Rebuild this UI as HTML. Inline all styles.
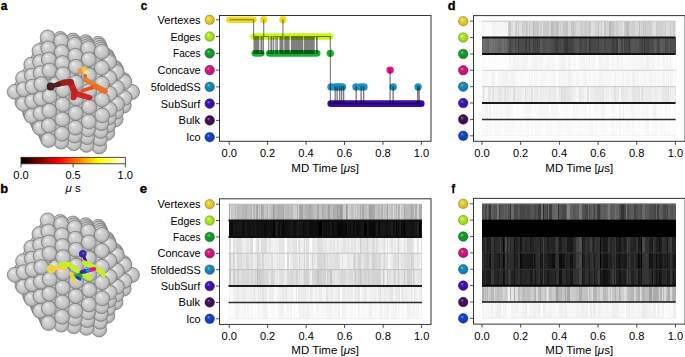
<!DOCTYPE html>
<html><head><meta charset="utf-8"><style>
html,body{margin:0;padding:0;background:#fff;overflow:hidden;}
svg{display:block;font-family:"Liberation Sans", sans-serif;}
</style></head><body>
<svg width="685" height="357" viewBox="0 0 685 357">
<defs><radialGradient id="s0" cx="0.5" cy="0.5" r="0.5" fx="0.35" fy="0.3"><stop offset="0" stop-color="#f7e68e"/><stop offset="0.35" stop-color="#f0d232"/><stop offset="0.85" stop-color="#d3b92c"/><stop offset="1" stop-color="#a89323"/></radialGradient><radialGradient id="s1" cx="0.5" cy="0.5" r="0.5" fx="0.35" fy="0.3"><stop offset="0" stop-color="#d5f688"/><stop offset="0.35" stop-color="#b2ee26"/><stop offset="0.85" stop-color="#9dd121"/><stop offset="1" stop-color="#7da71b"/></radialGradient><radialGradient id="s2" cx="0.5" cy="0.5" r="0.5" fx="0.35" fy="0.3"><stop offset="0" stop-color="#80cb8b"/><stop offset="0.35" stop-color="#18a02c"/><stop offset="0.85" stop-color="#158d27"/><stop offset="1" stop-color="#11701f"/></radialGradient><radialGradient id="s3" cx="0.5" cy="0.5" r="0.5" fx="0.35" fy="0.3"><stop offset="0" stop-color="#e880bb"/><stop offset="0.35" stop-color="#d61884"/><stop offset="0.85" stop-color="#bc1574"/><stop offset="1" stop-color="#96115c"/></radialGradient><radialGradient id="s4" cx="0.5" cy="0.5" r="0.5" fx="0.35" fy="0.3"><stop offset="0" stop-color="#81c0d8"/><stop offset="0.35" stop-color="#1a8cb8"/><stop offset="0.85" stop-color="#177ba2"/><stop offset="1" stop-color="#126281"/></radialGradient><radialGradient id="s5" cx="0.5" cy="0.5" r="0.5" fx="0.35" fy="0.3"><stop offset="0" stop-color="#967ed6"/><stop offset="0.35" stop-color="#4014b4"/><stop offset="0.85" stop-color="#38129e"/><stop offset="1" stop-color="#2d0e7e"/></radialGradient><radialGradient id="s6" cx="0.5" cy="0.5" r="0.5" fx="0.35" fy="0.3"><stop offset="0" stop-color="#987ca4"/><stop offset="0.35" stop-color="#44105a"/><stop offset="0.85" stop-color="#3c0e4f"/><stop offset="1" stop-color="#300b3f"/></radialGradient><radialGradient id="s7" cx="0.5" cy="0.5" r="0.5" fx="0.35" fy="0.3"><stop offset="0" stop-color="#7e98e3"/><stop offset="0.35" stop-color="#1444cc"/><stop offset="0.85" stop-color="#123cb4"/><stop offset="1" stop-color="#0e308f"/></radialGradient><linearGradient id="hot" x1="0" y1="0" x2="1" y2="0"><stop offset="0.000" stop-color="#000000"/><stop offset="0.050" stop-color="#230000"/><stop offset="0.100" stop-color="#460000"/><stop offset="0.150" stop-color="#690000"/><stop offset="0.200" stop-color="#8c0000"/><stop offset="0.250" stop-color="#af0000"/><stop offset="0.300" stop-color="#d20000"/><stop offset="0.350" stop-color="#f50000"/><stop offset="0.400" stop-color="#ff1700"/><stop offset="0.450" stop-color="#ff3900"/><stop offset="0.500" stop-color="#ff5a00"/><stop offset="0.550" stop-color="#ff7c00"/><stop offset="0.600" stop-color="#ff9d00"/><stop offset="0.650" stop-color="#ffbf00"/><stop offset="0.700" stop-color="#ffe000"/><stop offset="0.750" stop-color="#ffff04"/><stop offset="0.800" stop-color="#ffff36"/><stop offset="0.850" stop-color="#ffff68"/><stop offset="0.900" stop-color="#ffff9b"/><stop offset="0.950" stop-color="#ffffcd"/><stop offset="1.000" stop-color="#ffffff"/></linearGradient><radialGradient id="sph" cx="0.5" cy="0.5" r="0.5" fx="0.32" fy="0.27"><stop offset="0" stop-color="#eeeeee"/><stop offset="0.3" stop-color="#d5d5d5"/><stop offset="0.75" stop-color="#c3c3c3"/><stop offset="1" stop-color="#9e9e9e"/></radialGradient><g id="np" fill="url(#sph)" stroke="#7e7e7e" stroke-width="0.75"><circle cx="96.7" cy="102.2" r="7.5"/><circle cx="83.7" cy="93.8" r="7.5"/><circle cx="70.6" cy="85.3" r="7.5"/><circle cx="83.8" cy="109.6" r="7.5"/><circle cx="57.6" cy="76.9" r="7.5"/><circle cx="70.8" cy="101.2" r="7.5"/><circle cx="97.1" cy="87.6" r="7.5"/><circle cx="44.6" cy="68.4" r="7.5"/><circle cx="57.7" cy="92.7" r="7.5"/><circle cx="84.1" cy="79.2" r="7.5"/><circle cx="70.9" cy="117.0" r="7.5"/><circle cx="44.7" cy="84.3" r="7.5"/><circle cx="71.0" cy="70.7" r="7.5"/><circle cx="57.9" cy="108.6" r="7.5"/><circle cx="97.3" cy="113.3" r="7.5"/><circle cx="58.0" cy="62.3" r="7.5"/><circle cx="105.5" cy="99.7" r="7.5"/><circle cx="44.9" cy="100.1" r="7.5"/><circle cx="97.5" cy="73.0" r="7.5"/><circle cx="90.9" cy="99.6" r="7.5"/><circle cx="58.0" cy="124.4" r="7.5"/><circle cx="84.5" cy="64.6" r="7.5"/><circle cx="77.8" cy="91.2" r="7.5"/><circle cx="45.0" cy="116.0" r="7.5"/><circle cx="84.4" cy="120.7" r="7.5"/><circle cx="71.4" cy="56.1" r="7.5"/><circle cx="64.8" cy="82.7" r="7.5"/><circle cx="78.0" cy="107.0" r="7.5"/><circle cx="51.8" cy="74.3" r="7.5"/><circle cx="45.1" cy="131.9" r="7.5"/><circle cx="105.9" cy="85.1" r="7.5"/><circle cx="37.2" cy="74.3" r="7.5"/><circle cx="64.9" cy="98.6" r="7.5"/><circle cx="97.9" cy="58.4" r="7.5"/><circle cx="91.3" cy="85.0" r="7.5"/><circle cx="71.5" cy="128.1" r="7.5"/><circle cx="45.4" cy="60.7" r="7.5"/><circle cx="51.9" cy="90.1" r="7.5"/><circle cx="84.8" cy="50.0" r="7.5"/><circle cx="78.2" cy="76.6" r="7.5"/><circle cx="37.3" cy="90.1" r="7.5"/><circle cx="97.9" cy="124.3" r="7.5"/><circle cx="65.1" cy="114.5" r="7.5"/><circle cx="65.2" cy="68.1" r="7.5"/><circle cx="106.1" cy="110.7" r="7.5"/><circle cx="52.1" cy="106.0" r="7.5"/><circle cx="91.5" cy="110.7" r="7.5"/><circle cx="114.3" cy="97.1" r="7.5"/><circle cx="37.4" cy="106.0" r="7.5"/><circle cx="58.6" cy="135.5" r="7.5"/><circle cx="58.8" cy="54.5" r="7.5"/><circle cx="106.3" cy="70.5" r="7.5"/><circle cx="99.7" cy="97.1" r="7.5"/><circle cx="98.3" cy="43.8" r="7.5"/><circle cx="91.7" cy="70.4" r="7.5"/><circle cx="85.0" cy="97.1" r="7.5"/><circle cx="85.0" cy="131.7" r="7.5"/><circle cx="52.2" cy="121.9" r="7.5"/><circle cx="37.6" cy="121.8" r="7.5"/><circle cx="78.6" cy="62.0" r="7.5"/><circle cx="72.0" cy="88.6" r="7.5"/><circle cx="78.6" cy="118.1" r="7.5"/><circle cx="59.0" cy="80.2" r="7.5"/><circle cx="72.2" cy="48.3" r="7.5"/><circle cx="44.4" cy="80.1" r="7.5"/><circle cx="72.2" cy="104.5" r="7.5"/><circle cx="114.7" cy="82.5" r="7.5"/><circle cx="29.7" cy="80.1" r="7.5"/><circle cx="72.1" cy="139.1" r="7.5"/><circle cx="52.6" cy="66.5" r="7.5"/><circle cx="106.7" cy="55.9" r="7.5"/><circle cx="100.1" cy="82.5" r="7.5"/><circle cx="37.9" cy="66.5" r="7.5"/><circle cx="59.1" cy="96.0" r="7.5"/><circle cx="92.0" cy="55.8" r="7.5"/><circle cx="85.4" cy="82.5" r="7.5"/><circle cx="98.5" cy="135.4" r="7.5"/><circle cx="44.5" cy="96.0" r="7.5"/><circle cx="65.7" cy="125.5" r="7.5"/><circle cx="46.0" cy="133.9" r="7.5"/><circle cx="46.1" cy="52.9" r="7.5"/><circle cx="29.9" cy="96.0" r="7.5"/><circle cx="72.4" cy="74.0" r="7.5"/><circle cx="106.7" cy="121.8" r="7.5"/><circle cx="85.6" cy="42.2" r="7.5"/><circle cx="92.1" cy="121.7" r="7.5"/><circle cx="59.3" cy="111.9" r="7.5"/><circle cx="114.9" cy="108.2" r="7.5"/><circle cx="44.6" cy="111.8" r="7.5"/><circle cx="66.0" cy="60.4" r="7.5"/><circle cx="100.3" cy="108.1" r="7.5"/><circle cx="123.1" cy="94.6" r="7.5"/><circle cx="30.0" cy="111.8" r="7.5"/><circle cx="85.6" cy="108.1" r="7.5"/><circle cx="115.1" cy="67.9" r="7.5"/><circle cx="108.5" cy="94.5" r="7.5"/><circle cx="85.6" cy="142.8" r="7.5"/><circle cx="100.5" cy="67.9" r="7.5"/><circle cx="59.6" cy="46.7" r="7.5"/><circle cx="93.9" cy="94.5" r="7.5"/><circle cx="85.8" cy="67.8" r="7.5"/><circle cx="79.2" cy="94.5" r="7.5"/><circle cx="79.2" cy="129.2" r="7.5"/><circle cx="59.5" cy="137.5" r="7.5"/><circle cx="66.2" cy="86.0" r="7.5"/><circle cx="99.1" cy="45.8" r="7.5"/><circle cx="79.4" cy="54.2" r="7.5"/><circle cx="51.6" cy="86.0" r="7.5"/><circle cx="72.8" cy="115.5" r="7.5"/><circle cx="53.0" cy="123.9" r="7.5"/><circle cx="36.9" cy="86.0" r="7.5"/><circle cx="38.4" cy="123.9" r="7.5"/><circle cx="59.8" cy="72.4" r="7.5"/><circle cx="73.0" cy="40.6" r="7.5"/><circle cx="123.5" cy="80.0" r="7.5"/><circle cx="22.3" cy="85.9" r="7.5"/><circle cx="45.1" cy="72.4" r="7.5"/><circle cx="66.3" cy="101.9" r="7.5"/><circle cx="108.9" cy="79.9" r="7.5"/><circle cx="99.1" cy="146.4" r="7.5"/><circle cx="30.5" cy="72.3" r="7.5"/><circle cx="51.7" cy="101.9" r="7.5"/><circle cx="94.3" cy="79.9" r="7.5"/><circle cx="53.3" cy="58.8" r="7.5"/><circle cx="37.1" cy="101.8" r="7.5"/><circle cx="107.3" cy="132.8" r="7.5"/><circle cx="79.6" cy="79.9" r="7.5"/><circle cx="38.7" cy="58.7" r="7.5"/><circle cx="22.4" cy="101.8" r="7.5"/><circle cx="92.7" cy="132.8" r="7.5"/><circle cx="73.0" cy="141.2" r="7.5"/><circle cx="115.5" cy="119.2" r="7.5"/><circle cx="107.5" cy="57.9" r="7.5"/><circle cx="46.9" cy="45.1" r="7.5"/><circle cx="100.9" cy="119.2" r="7.5"/><circle cx="92.9" cy="57.9" r="7.5"/><circle cx="73.2" cy="66.2" r="7.5"/><circle cx="123.7" cy="105.6" r="7.5"/><circle cx="86.3" cy="119.2" r="7.5"/><circle cx="66.5" cy="127.5" r="7.5"/><circle cx="46.8" cy="135.9" r="7.5"/><circle cx="109.1" cy="105.6" r="7.5"/><circle cx="132.0" cy="92.0" r="7.5"/><circle cx="94.5" cy="105.6" r="7.5"/><circle cx="86.5" cy="44.2" r="7.5"/><circle cx="66.8" cy="52.6" r="7.5"/><circle cx="117.3" cy="92.0" r="7.5"/><circle cx="79.8" cy="105.5" r="7.5"/><circle cx="60.1" cy="113.9" r="7.5"/><circle cx="102.7" cy="92.0" r="7.5"/><circle cx="45.5" cy="113.9" r="7.5"/><circle cx="88.0" cy="91.9" r="7.5"/><circle cx="60.3" cy="39.0" r="7.5"/><circle cx="30.8" cy="113.9" r="7.5"/><circle cx="73.4" cy="91.9" r="7.5"/><circle cx="116.0" cy="69.9" r="7.5"/><circle cx="86.5" cy="144.8" r="7.5"/><circle cx="58.8" cy="91.9" r="7.5"/><circle cx="101.3" cy="69.9" r="7.5"/><circle cx="44.1" cy="91.8" r="7.5"/><circle cx="86.7" cy="69.9" r="7.5"/><circle cx="67.0" cy="78.3" r="7.5"/><circle cx="29.5" cy="91.8" r="7.5"/><circle cx="80.0" cy="131.2" r="7.5"/><circle cx="60.3" cy="139.6" r="7.5"/><circle cx="52.3" cy="78.2" r="7.5"/><circle cx="14.8" cy="91.8" r="7.5"/><circle cx="37.7" cy="78.2" r="7.5"/><circle cx="100.0" cy="47.9" r="7.5"/><circle cx="80.3" cy="56.3" r="7.5"/><circle cx="60.5" cy="64.6" r="7.5"/><circle cx="23.1" cy="78.2" r="7.5"/><circle cx="73.6" cy="117.6" r="7.5"/><circle cx="53.9" cy="125.9" r="7.5"/><circle cx="45.9" cy="64.6" r="7.5"/><circle cx="99.9" cy="138.7" r="7.5"/><circle cx="39.3" cy="125.9" r="7.5"/><circle cx="31.3" cy="64.6" r="7.5"/><circle cx="73.8" cy="42.6" r="7.5"/><circle cx="54.1" cy="51.0" r="7.5"/><circle cx="124.4" cy="82.0" r="7.5"/><circle cx="108.1" cy="125.1" r="7.5"/><circle cx="67.2" cy="103.9" r="7.5"/><circle cx="39.5" cy="51.0" r="7.5"/><circle cx="109.7" cy="82.0" r="7.5"/><circle cx="93.5" cy="125.0" r="7.5"/><circle cx="52.5" cy="103.9" r="7.5"/><circle cx="95.1" cy="81.9" r="7.5"/><circle cx="116.3" cy="111.5" r="7.5"/><circle cx="47.7" cy="37.4" r="7.5"/><circle cx="37.9" cy="103.9" r="7.5"/><circle cx="80.5" cy="81.9" r="7.5"/><circle cx="101.7" cy="111.4" r="7.5"/><circle cx="124.5" cy="97.9" r="7.5"/><circle cx="23.3" cy="103.8" r="7.5"/><circle cx="73.8" cy="143.2" r="7.5"/><circle cx="87.0" cy="111.4" r="7.5"/><circle cx="108.4" cy="59.9" r="7.5"/><circle cx="109.9" cy="97.8" r="7.5"/><circle cx="93.8" cy="59.9" r="7.5"/><circle cx="74.0" cy="68.3" r="7.5"/><circle cx="95.2" cy="97.8" r="7.5"/><circle cx="67.4" cy="129.6" r="7.5"/><circle cx="47.7" cy="138.0" r="7.5"/><circle cx="80.6" cy="97.8" r="7.5"/><circle cx="87.3" cy="46.3" r="7.5"/><circle cx="67.6" cy="54.6" r="7.5"/><circle cx="67.6" cy="89.3" r="7.5"/><circle cx="61.0" cy="116.0" r="7.5"/><circle cx="52.9" cy="89.3" r="7.5"/><circle cx="87.2" cy="137.1" r="7.5"/><circle cx="46.3" cy="115.9" r="7.5"/><circle cx="61.2" cy="41.0" r="7.5"/><circle cx="38.3" cy="89.3" r="7.5"/><circle cx="31.7" cy="115.9" r="7.5"/><circle cx="61.2" cy="75.7" r="7.5"/><circle cx="116.8" cy="72.0" r="7.5"/><circle cx="23.7" cy="89.2" r="7.5"/><circle cx="46.5" cy="75.7" r="7.5"/><circle cx="80.8" cy="123.4" r="7.5"/><circle cx="102.2" cy="72.0" r="7.5"/><circle cx="31.9" cy="75.6" r="7.5"/><circle cx="87.5" cy="71.9" r="7.5"/><circle cx="54.7" cy="62.1" r="7.5"/><circle cx="61.2" cy="141.6" r="7.5"/><circle cx="40.1" cy="62.0" r="7.5"/><circle cx="74.4" cy="109.8" r="7.5"/><circle cx="116.9" cy="87.8" r="7.5"/><circle cx="100.7" cy="130.9" r="7.5"/><circle cx="100.8" cy="49.9" r="7.5"/><circle cx="81.1" cy="58.3" r="7.5"/><circle cx="102.3" cy="87.8" r="7.5"/><circle cx="48.3" cy="48.4" r="7.5"/><circle cx="61.4" cy="101.3" r="7.5"/><circle cx="54.8" cy="128.0" r="7.5"/><circle cx="87.7" cy="87.8" r="7.5"/><circle cx="108.9" cy="117.3" r="7.5"/><circle cx="46.7" cy="101.3" r="7.5"/><circle cx="40.1" cy="127.9" r="7.5"/><circle cx="94.2" cy="117.3" r="7.5"/><circle cx="74.7" cy="44.7" r="7.5"/><circle cx="117.1" cy="103.7" r="7.5"/><circle cx="32.1" cy="101.3" r="7.5"/><circle cx="74.6" cy="79.3" r="7.5"/><circle cx="102.4" cy="103.7" r="7.5"/><circle cx="74.6" cy="135.5" r="7.5"/><circle cx="87.8" cy="103.6" r="7.5"/><circle cx="68.2" cy="65.7" r="7.5"/><circle cx="74.8" cy="95.2" r="7.5"/><circle cx="68.2" cy="121.8" r="7.5"/><circle cx="109.2" cy="62.0" r="7.5"/><circle cx="94.6" cy="61.9" r="7.5"/><circle cx="61.8" cy="52.1" r="7.5"/><circle cx="61.8" cy="86.7" r="7.5"/><circle cx="55.1" cy="113.4" r="7.5"/><circle cx="48.5" cy="140.0" r="7.5"/><circle cx="47.1" cy="86.7" r="7.5"/><circle cx="40.5" cy="113.3" r="7.5"/><circle cx="88.0" cy="129.3" r="7.5"/><circle cx="88.2" cy="48.3" r="7.5"/><circle cx="109.4" cy="77.8" r="7.5"/><circle cx="32.5" cy="86.7" r="7.5"/><circle cx="55.3" cy="73.1" r="7.5"/><circle cx="94.7" cy="77.8" r="7.5"/><circle cx="40.7" cy="73.1" r="7.5"/><circle cx="81.6" cy="115.7" r="7.5"/><circle cx="81.7" cy="69.3" r="7.5"/><circle cx="48.9" cy="59.5" r="7.5"/><circle cx="109.5" cy="93.7" r="7.5"/><circle cx="68.6" cy="107.2" r="7.5"/><circle cx="62.0" cy="133.8" r="7.5"/><circle cx="94.9" cy="93.7" r="7.5"/><circle cx="101.4" cy="123.1" r="7.5"/><circle cx="75.3" cy="55.7" r="7.5"/><circle cx="55.5" cy="98.8" r="7.5"/><circle cx="48.9" cy="125.4" r="7.5"/><circle cx="81.9" cy="85.2" r="7.5"/><circle cx="109.6" cy="109.5" r="7.5"/><circle cx="40.9" cy="98.7" r="7.5"/><circle cx="101.7" cy="51.9" r="7.5"/><circle cx="95.0" cy="109.5" r="7.5"/><circle cx="68.8" cy="76.8" r="7.5"/><circle cx="82.0" cy="101.1" r="7.5"/><circle cx="75.4" cy="127.7" r="7.5"/><circle cx="62.4" cy="63.1" r="7.5"/><circle cx="101.8" cy="67.8" r="7.5"/><circle cx="69.0" cy="92.6" r="7.5"/><circle cx="62.3" cy="119.2" r="7.5"/><circle cx="88.8" cy="59.4" r="7.5"/><circle cx="55.9" cy="84.2" r="7.5"/><circle cx="49.3" cy="110.8" r="7.5"/><circle cx="101.9" cy="83.7" r="7.5"/><circle cx="41.3" cy="84.1" r="7.5"/><circle cx="88.8" cy="121.5" r="7.5"/><circle cx="49.5" cy="70.5" r="7.5"/><circle cx="88.9" cy="75.2" r="7.5"/><circle cx="75.8" cy="113.1" r="7.5"/><circle cx="102.1" cy="99.5" r="7.5"/><circle cx="75.9" cy="66.8" r="7.5"/><circle cx="62.7" cy="104.6" r="7.5"/><circle cx="89.1" cy="91.1" r="7.5"/><circle cx="102.2" cy="115.4" r="7.5"/><circle cx="49.7" cy="96.2" r="7.5"/><circle cx="76.0" cy="82.6" r="7.5"/><circle cx="89.2" cy="106.9" r="7.5"/><circle cx="63.0" cy="74.2" r="7.5"/><circle cx="76.2" cy="98.5" r="7.5"/><circle cx="63.1" cy="90.0" r="7.5"/></g></defs>
<rect width="685" height="357" fill="#fff"/><g transform="translate(0,21.20) scale(1,16.370)" shape-rendering="crispEdges"><path fill="#b7b7b7" d="M533.0 0h1v1h-1zM609.0 0h2v1h-2z"/><path fill="#bdbdbd" d="M551.0 0h3v1h-3zM556.0 0h2v1h-2zM626.0 0h3v1h-3z"/><path fill="#c0c0c0" d="M526.0 0h1v1h-1zM573.0 0h1v1h-1zM589.0 0h1v1h-1zM613.0 0h1v1h-1zM639.0 0h1v1h-1z"/><path fill="#c3c3c3" d="M565.0 0h3v1h-3zM598.0 0h1v1h-1z"/><path fill="#c6c6c6" d="M509.0 0h1v1h-1zM529.0 0h1v1h-1zM537.0 0h1v1h-1zM558.0 0h1v1h-1zM563.0 0h1v1h-1zM571.0 0h2v1h-2zM604.0 0h2v1h-2zM611.0 0h2v1h-2zM643.0 0h1v1h-1zM645.0 0h1v1h-1z"/><path fill="#c9c9c9" d="M510.0 0h1v1h-1zM516.0 0h1v1h-1zM518.0 0h1v1h-1zM534.0 0h3v1h-3zM538.0 0h1v1h-1zM543.0 0h3v1h-3zM546.0 0h3v1h-3zM554.0 0h2v1h-2zM582.0 0h1v1h-1zM624.0 0h2v1h-2z"/><path fill="#cccccc" d="M564.0 0h1v1h-1zM574.0 0h1v1h-1zM584.0 0h3v1h-3zM590.0 0h1v1h-1zM601.0 0h1v1h-1zM616.0 0h2v1h-2zM629.0 0h1v1h-1zM656.0 0h1v1h-1zM670.0 0h1v1h-1zM673.0 0h2v1h-2z"/><path fill="#cfcfcf" d="M508.0 0h1v1h-1zM522.0 0h3v1h-3zM527.0 0h1v1h-1zM540.0 0h2v1h-2zM550.0 0h1v1h-1zM575.0 0h1v1h-1zM580.0 0h2v1h-2zM587.0 0h2v1h-2zM631.0 0h1v1h-1zM632.0 0h3v1h-3zM644.0 0h1v1h-1zM646.0 0h3v1h-3zM649.0 0h3v1h-3zM657.0 0h3v1h-3zM660.0 0h2v1h-2zM665.0 0h1v1h-1z"/><path fill="#d2d2d2" d="M515.0 0h1v1h-1zM560.0 0h1v1h-1zM595.0 0h3v1h-3zM614.0 0h2v1h-2zM618.0 0h1v1h-1zM641.0 0h2v1h-2zM662.0 0h3v1h-3z"/><path fill="#d5d5d5" d="M525.0 0h1v1h-1zM531.0 0h2v1h-2zM549.0 0h1v1h-1zM559.0 0h1v1h-1zM561.0 0h2v1h-2zM583.0 0h1v1h-1zM606.0 0h3v1h-3zM630.0 0h1v1h-1zM640.0 0h1v1h-1z"/><path fill="#d8d8d8" d="M530.0 0h1v1h-1zM539.0 0h1v1h-1zM568.0 0h3v1h-3zM576.0 0h3v1h-3zM579.0 0h1v1h-1zM619.0 0h2v1h-2zM621.0 0h2v1h-2zM635.0 0h1v1h-1zM636.0 0h3v1h-3zM669.0 0h1v1h-1zM671.0 0h2v1h-2z"/><path fill="#dbdbdb" d="M511.0 0h2v1h-2zM528.0 0h1v1h-1zM593.0 0h2v1h-2zM599.0 0h2v1h-2zM666.0 0h2v1h-2zM668.0 0h1v1h-1z"/><path fill="#dedede" d="M517.0 0h1v1h-1zM519.0 0h3v1h-3zM542.0 0h1v1h-1zM591.0 0h2v1h-2zM652.0 0h2v1h-2z"/><path fill="#e1e1e1" d="M602.0 0h2v1h-2zM654.0 0h2v1h-2z"/><path fill="#e4e4e4" d="M513.0 0h2v1h-2zM675.0 0h0.6v1h-0.6z"/><path fill="#e7e7e7" d="M623.0 0h1v1h-1z"/><path fill="#f0f0f0" d="M494.0 0h1v1h-1z"/><path fill="#f3f3f3" d="M492.0 0h2v1h-2zM501.0 0h1v1h-1zM505.0 0h1v1h-1zM506.0 0h2v1h-2z"/><path fill="#f6f6f6" d="M482.0 0h1v1h-1zM483.0 0h1v1h-1zM495.0 0h1v1h-1zM496.0 0h2v1h-2zM498.0 0h3v1h-3zM502.0 0h2v1h-2zM504.0 0h1v1h-1z"/><path fill="#f9f9f9" d="M484.0 0h1v1h-1zM488.0 0h1v1h-1zM489.0 0h2v1h-2zM491.0 0h1v1h-1z"/><path fill="#fcfcfc" d="M485.0 0h3v1h-3z"/></g><g transform="translate(0,37.57) scale(1,16.370)" shape-rendering="crispEdges"><path fill="#363636" d="M565.0 0h3v1h-3zM644.0 0h1v1h-1z"/><path fill="#393939" d="M529.0 0h1v1h-1zM589.0 0h1v1h-1zM629.0 0h1v1h-1z"/><path fill="#3c3c3c" d="M518.0 0h1v1h-1zM526.0 0h1v1h-1zM537.0 0h1v1h-1zM556.0 0h2v1h-2zM613.0 0h1v1h-1zM616.0 0h2v1h-2z"/><path fill="#3f3f3f" d="M525.0 0h1v1h-1zM564.0 0h1v1h-1zM590.0 0h1v1h-1zM598.0 0h1v1h-1z"/><path fill="#424242" d="M533.0 0h1v1h-1zM539.0 0h1v1h-1zM554.0 0h2v1h-2zM568.0 0h3v1h-3zM571.0 0h2v1h-2zM641.0 0h2v1h-2zM646.0 0h3v1h-3z"/><path fill="#454545" d="M510.0 0h1v1h-1zM534.0 0h3v1h-3zM558.0 0h1v1h-1zM560.0 0h1v1h-1zM563.0 0h1v1h-1zM573.0 0h1v1h-1zM580.0 0h2v1h-2zM611.0 0h2v1h-2zM621.0 0h2v1h-2zM624.0 0h2v1h-2zM626.0 0h3v1h-3zM665.0 0h1v1h-1z"/><path fill="#484848" d="M509.0 0h1v1h-1zM515.0 0h1v1h-1zM538.0 0h1v1h-1zM579.0 0h1v1h-1zM584.0 0h3v1h-3zM591.0 0h2v1h-2zM593.0 0h2v1h-2zM595.0 0h3v1h-3zM604.0 0h2v1h-2zM614.0 0h2v1h-2zM640.0 0h1v1h-1zM645.0 0h1v1h-1zM657.0 0h3v1h-3zM670.0 0h1v1h-1z"/><path fill="#4b4b4b" d="M519.0 0h3v1h-3zM522.0 0h3v1h-3zM528.0 0h1v1h-1zM551.0 0h3v1h-3zM559.0 0h1v1h-1zM601.0 0h1v1h-1zM639.0 0h1v1h-1zM643.0 0h1v1h-1zM649.0 0h3v1h-3zM652.0 0h2v1h-2z"/><path fill="#4e4e4e" d="M511.0 0h2v1h-2zM516.0 0h1v1h-1zM527.0 0h1v1h-1zM530.0 0h1v1h-1zM543.0 0h3v1h-3zM549.0 0h1v1h-1zM561.0 0h2v1h-2zM574.0 0h1v1h-1zM583.0 0h1v1h-1zM599.0 0h2v1h-2zM606.0 0h3v1h-3zM609.0 0h2v1h-2zM630.0 0h1v1h-1zM666.0 0h2v1h-2zM668.0 0h1v1h-1zM673.0 0h2v1h-2z"/><path fill="#515151" d="M531.0 0h2v1h-2zM542.0 0h1v1h-1zM575.0 0h1v1h-1zM582.0 0h1v1h-1zM587.0 0h2v1h-2zM602.0 0h2v1h-2zM631.0 0h1v1h-1zM635.0 0h1v1h-1zM671.0 0h2v1h-2zM675.0 0h0.6v1h-0.6z"/><path fill="#545454" d="M517.0 0h1v1h-1zM546.0 0h3v1h-3zM550.0 0h1v1h-1zM576.0 0h3v1h-3zM632.0 0h3v1h-3zM636.0 0h3v1h-3zM656.0 0h1v1h-1z"/><path fill="#575757" d="M508.0 0h1v1h-1zM513.0 0h2v1h-2zM619.0 0h2v1h-2zM623.0 0h1v1h-1z"/><path fill="#5a5a5a" d="M540.0 0h2v1h-2zM654.0 0h2v1h-2zM662.0 0h3v1h-3zM669.0 0h1v1h-1z"/><path fill="#5d5d5d" d="M618.0 0h1v1h-1zM660.0 0h2v1h-2z"/><path fill="#636363" d="M482.0 0h1v1h-1zM488.0 0h1v1h-1zM498.0 0h3v1h-3zM506.0 0h2v1h-2z"/><path fill="#666666" d="M501.0 0h1v1h-1zM504.0 0h1v1h-1z"/><path fill="#696969" d="M485.0 0h3v1h-3zM495.0 0h1v1h-1z"/><path fill="#6c6c6c" d="M496.0 0h2v1h-2zM505.0 0h1v1h-1z"/><path fill="#6f6f6f" d="M483.0 0h1v1h-1zM492.0 0h2v1h-2zM502.0 0h2v1h-2z"/><path fill="#727272" d="M484.0 0h1v1h-1zM489.0 0h2v1h-2zM494.0 0h1v1h-1z"/><path fill="#787878" d="M491.0 0h1v1h-1z"/></g><g transform="translate(0,53.94) scale(1,16.370)" shape-rendering="crispEdges"><path fill="#f0f0f0" d="M564.0 0h1v1h-1zM589.0 0h1v1h-1zM646.0 0h3v1h-3z"/><path fill="#f3f3f3" d="M513.0 0h2v1h-2zM515.0 0h1v1h-1zM517.0 0h1v1h-1zM522.0 0h3v1h-3zM525.0 0h1v1h-1zM527.0 0h1v1h-1zM534.0 0h3v1h-3zM537.0 0h1v1h-1zM540.0 0h2v1h-2zM561.0 0h2v1h-2zM563.0 0h1v1h-1zM568.0 0h3v1h-3zM593.0 0h2v1h-2zM599.0 0h2v1h-2zM601.0 0h1v1h-1zM606.0 0h3v1h-3zM618.0 0h1v1h-1zM641.0 0h2v1h-2zM652.0 0h2v1h-2zM670.0 0h1v1h-1z"/><path fill="#f6f6f6" d="M509.0 0h1v1h-1zM510.0 0h1v1h-1zM516.0 0h1v1h-1zM518.0 0h1v1h-1zM519.0 0h3v1h-3zM526.0 0h1v1h-1zM531.0 0h2v1h-2zM533.0 0h1v1h-1zM539.0 0h1v1h-1zM546.0 0h3v1h-3zM549.0 0h1v1h-1zM551.0 0h3v1h-3zM559.0 0h1v1h-1zM560.0 0h1v1h-1zM573.0 0h1v1h-1zM574.0 0h1v1h-1zM579.0 0h1v1h-1zM580.0 0h2v1h-2zM582.0 0h1v1h-1zM583.0 0h1v1h-1zM584.0 0h3v1h-3zM591.0 0h2v1h-2zM602.0 0h2v1h-2zM604.0 0h2v1h-2zM611.0 0h2v1h-2zM616.0 0h2v1h-2zM621.0 0h2v1h-2zM630.0 0h1v1h-1zM632.0 0h3v1h-3zM635.0 0h1v1h-1zM636.0 0h3v1h-3zM639.0 0h1v1h-1zM640.0 0h1v1h-1zM643.0 0h1v1h-1zM644.0 0h1v1h-1zM645.0 0h1v1h-1zM649.0 0h3v1h-3zM654.0 0h2v1h-2zM657.0 0h3v1h-3zM662.0 0h3v1h-3zM666.0 0h2v1h-2zM669.0 0h1v1h-1z"/><path fill="#f9f9f9" d="M511.0 0h2v1h-2zM528.0 0h1v1h-1zM529.0 0h1v1h-1zM530.0 0h1v1h-1zM538.0 0h1v1h-1zM542.0 0h1v1h-1zM543.0 0h3v1h-3zM550.0 0h1v1h-1zM554.0 0h2v1h-2zM558.0 0h1v1h-1zM565.0 0h3v1h-3zM575.0 0h1v1h-1zM587.0 0h2v1h-2zM598.0 0h1v1h-1zM613.0 0h1v1h-1zM614.0 0h2v1h-2zM619.0 0h2v1h-2zM623.0 0h1v1h-1zM624.0 0h2v1h-2zM626.0 0h3v1h-3zM629.0 0h1v1h-1zM631.0 0h1v1h-1zM656.0 0h1v1h-1zM665.0 0h1v1h-1zM668.0 0h1v1h-1zM671.0 0h2v1h-2zM675.0 0h0.6v1h-0.6z"/><path fill="#fcfcfc" d="M482.0 0h1v1h-1zM483.0 0h1v1h-1zM484.0 0h1v1h-1zM488.0 0h1v1h-1zM489.0 0h2v1h-2zM492.0 0h2v1h-2zM494.0 0h1v1h-1zM495.0 0h1v1h-1zM496.0 0h2v1h-2zM498.0 0h3v1h-3zM501.0 0h1v1h-1zM502.0 0h2v1h-2zM504.0 0h1v1h-1zM505.0 0h1v1h-1zM506.0 0h2v1h-2zM508.0 0h1v1h-1zM556.0 0h2v1h-2zM571.0 0h2v1h-2zM576.0 0h3v1h-3zM590.0 0h1v1h-1zM595.0 0h3v1h-3zM609.0 0h2v1h-2zM660.0 0h2v1h-2z"/><path fill="#ffffff" d="M485.0 0h3v1h-3zM491.0 0h1v1h-1zM673.0 0h2v1h-2z"/></g><g transform="translate(0,70.31) scale(1,16.370)" shape-rendering="crispEdges"><path fill="#f0f0f0" d="M492.0 0h2v1h-2zM568.0 0h3v1h-3zM632.0 0h3v1h-3zM645.0 0h1v1h-1zM668.0 0h1v1h-1zM670.0 0h1v1h-1z"/><path fill="#f3f3f3" d="M502.0 0h2v1h-2zM504.0 0h1v1h-1zM505.0 0h1v1h-1zM506.0 0h2v1h-2zM511.0 0h2v1h-2zM513.0 0h2v1h-2zM529.0 0h1v1h-1zM559.0 0h1v1h-1zM563.0 0h1v1h-1zM584.0 0h3v1h-3zM589.0 0h1v1h-1zM599.0 0h2v1h-2zM614.0 0h2v1h-2zM618.0 0h1v1h-1zM623.0 0h1v1h-1zM626.0 0h3v1h-3zM636.0 0h3v1h-3zM649.0 0h3v1h-3zM662.0 0h3v1h-3z"/><path fill="#f6f6f6" d="M482.0 0h1v1h-1zM484.0 0h1v1h-1zM494.0 0h1v1h-1zM498.0 0h3v1h-3zM501.0 0h1v1h-1zM508.0 0h1v1h-1zM509.0 0h1v1h-1zM510.0 0h1v1h-1zM517.0 0h1v1h-1zM531.0 0h2v1h-2zM534.0 0h3v1h-3zM537.0 0h1v1h-1zM540.0 0h2v1h-2zM542.0 0h1v1h-1zM543.0 0h3v1h-3zM551.0 0h3v1h-3zM554.0 0h2v1h-2zM560.0 0h1v1h-1zM561.0 0h2v1h-2zM564.0 0h1v1h-1zM565.0 0h3v1h-3zM571.0 0h2v1h-2zM573.0 0h1v1h-1zM576.0 0h3v1h-3zM579.0 0h1v1h-1zM583.0 0h1v1h-1zM593.0 0h2v1h-2zM598.0 0h1v1h-1zM601.0 0h1v1h-1zM602.0 0h2v1h-2zM604.0 0h2v1h-2zM606.0 0h3v1h-3zM609.0 0h2v1h-2zM621.0 0h2v1h-2zM629.0 0h1v1h-1zM630.0 0h1v1h-1zM635.0 0h1v1h-1zM640.0 0h1v1h-1zM641.0 0h2v1h-2zM643.0 0h1v1h-1zM644.0 0h1v1h-1zM652.0 0h2v1h-2zM654.0 0h2v1h-2zM657.0 0h3v1h-3zM666.0 0h2v1h-2zM671.0 0h2v1h-2z"/><path fill="#f9f9f9" d="M483.0 0h1v1h-1zM485.0 0h3v1h-3zM488.0 0h1v1h-1zM489.0 0h2v1h-2zM491.0 0h1v1h-1zM495.0 0h1v1h-1zM515.0 0h1v1h-1zM516.0 0h1v1h-1zM519.0 0h3v1h-3zM522.0 0h3v1h-3zM525.0 0h1v1h-1zM527.0 0h1v1h-1zM528.0 0h1v1h-1zM530.0 0h1v1h-1zM539.0 0h1v1h-1zM546.0 0h3v1h-3zM549.0 0h1v1h-1zM550.0 0h1v1h-1zM558.0 0h1v1h-1zM574.0 0h1v1h-1zM575.0 0h1v1h-1zM582.0 0h1v1h-1zM587.0 0h2v1h-2zM590.0 0h1v1h-1zM591.0 0h2v1h-2zM595.0 0h3v1h-3zM611.0 0h2v1h-2zM613.0 0h1v1h-1zM616.0 0h2v1h-2zM619.0 0h2v1h-2zM624.0 0h2v1h-2zM631.0 0h1v1h-1zM639.0 0h1v1h-1zM646.0 0h3v1h-3zM656.0 0h1v1h-1zM660.0 0h2v1h-2zM675.0 0h0.6v1h-0.6z"/><path fill="#fcfcfc" d="M496.0 0h2v1h-2zM518.0 0h1v1h-1zM533.0 0h1v1h-1zM538.0 0h1v1h-1zM556.0 0h2v1h-2zM580.0 0h2v1h-2zM665.0 0h1v1h-1zM669.0 0h1v1h-1zM673.0 0h2v1h-2z"/><path fill="#ffffff" d="M526.0 0h1v1h-1z"/></g><g transform="translate(0,86.68) scale(1,16.370)" shape-rendering="crispEdges"><path fill="#dedede" d="M513.0 0h2v1h-2zM525.0 0h1v1h-1zM561.0 0h2v1h-2zM564.0 0h1v1h-1z"/><path fill="#e1e1e1" d="M483.0 0h1v1h-1zM492.0 0h2v1h-2zM504.0 0h1v1h-1zM505.0 0h1v1h-1zM531.0 0h2v1h-2zM587.0 0h2v1h-2zM614.0 0h2v1h-2zM639.0 0h1v1h-1zM641.0 0h2v1h-2zM668.0 0h1v1h-1z"/><path fill="#e4e4e4" d="M488.0 0h1v1h-1zM489.0 0h2v1h-2zM498.0 0h3v1h-3zM508.0 0h1v1h-1zM549.0 0h1v1h-1zM563.0 0h1v1h-1zM565.0 0h3v1h-3zM568.0 0h3v1h-3zM602.0 0h2v1h-2zM632.0 0h3v1h-3zM635.0 0h1v1h-1zM643.0 0h1v1h-1zM666.0 0h2v1h-2z"/><path fill="#e7e7e7" d="M501.0 0h1v1h-1zM506.0 0h2v1h-2zM510.0 0h1v1h-1zM515.0 0h1v1h-1zM518.0 0h1v1h-1zM559.0 0h1v1h-1zM579.0 0h1v1h-1zM595.0 0h3v1h-3zM599.0 0h2v1h-2zM618.0 0h1v1h-1zM621.0 0h2v1h-2zM623.0 0h1v1h-1zM636.0 0h3v1h-3zM662.0 0h3v1h-3zM665.0 0h1v1h-1zM670.0 0h1v1h-1zM675.0 0h0.6v1h-0.6z"/><path fill="#eaeaea" d="M495.0 0h1v1h-1zM517.0 0h1v1h-1zM519.0 0h3v1h-3zM527.0 0h1v1h-1zM529.0 0h1v1h-1zM534.0 0h3v1h-3zM537.0 0h1v1h-1zM540.0 0h2v1h-2zM554.0 0h2v1h-2zM560.0 0h1v1h-1zM571.0 0h2v1h-2zM580.0 0h2v1h-2zM593.0 0h2v1h-2zM598.0 0h1v1h-1zM601.0 0h1v1h-1zM616.0 0h2v1h-2zM624.0 0h2v1h-2zM626.0 0h3v1h-3zM630.0 0h1v1h-1zM645.0 0h1v1h-1zM646.0 0h3v1h-3zM649.0 0h3v1h-3zM654.0 0h2v1h-2zM656.0 0h1v1h-1z"/><path fill="#ededed" d="M494.0 0h1v1h-1zM496.0 0h2v1h-2zM502.0 0h2v1h-2zM509.0 0h1v1h-1zM516.0 0h1v1h-1zM526.0 0h1v1h-1zM530.0 0h1v1h-1zM538.0 0h1v1h-1zM542.0 0h1v1h-1zM543.0 0h3v1h-3zM546.0 0h3v1h-3zM550.0 0h1v1h-1zM551.0 0h3v1h-3zM573.0 0h1v1h-1zM583.0 0h1v1h-1zM590.0 0h1v1h-1zM591.0 0h2v1h-2zM606.0 0h3v1h-3zM611.0 0h2v1h-2z"/><path fill="#f0f0f0" d="M484.0 0h1v1h-1zM511.0 0h2v1h-2zM522.0 0h3v1h-3zM528.0 0h1v1h-1zM558.0 0h1v1h-1zM574.0 0h1v1h-1zM575.0 0h1v1h-1zM582.0 0h1v1h-1zM604.0 0h2v1h-2zM613.0 0h1v1h-1zM631.0 0h1v1h-1zM644.0 0h1v1h-1zM652.0 0h2v1h-2zM657.0 0h3v1h-3zM660.0 0h2v1h-2zM669.0 0h1v1h-1zM671.0 0h2v1h-2zM673.0 0h2v1h-2z"/><path fill="#f3f3f3" d="M482.0 0h1v1h-1zM491.0 0h1v1h-1zM533.0 0h1v1h-1zM539.0 0h1v1h-1zM556.0 0h2v1h-2zM584.0 0h3v1h-3zM609.0 0h2v1h-2zM629.0 0h1v1h-1zM640.0 0h1v1h-1z"/><path fill="#f6f6f6" d="M576.0 0h3v1h-3zM619.0 0h2v1h-2z"/><path fill="#f9f9f9" d="M485.0 0h3v1h-3zM589.0 0h1v1h-1z"/></g><g transform="translate(0,103.05) scale(1,16.370)" shape-rendering="crispEdges"><path fill="#f0f0f0" d="M494.0 0h1v1h-1z"/><path fill="#f3f3f3" d="M485.0 0h3v1h-3zM489.0 0h2v1h-2zM501.0 0h1v1h-1zM506.0 0h2v1h-2zM508.0 0h1v1h-1zM509.0 0h1v1h-1zM538.0 0h1v1h-1zM590.0 0h1v1h-1zM602.0 0h2v1h-2zM613.0 0h1v1h-1zM619.0 0h2v1h-2zM623.0 0h1v1h-1zM654.0 0h2v1h-2z"/><path fill="#f6f6f6" d="M482.0 0h1v1h-1zM496.0 0h2v1h-2zM504.0 0h1v1h-1zM510.0 0h1v1h-1zM525.0 0h1v1h-1zM526.0 0h1v1h-1zM527.0 0h1v1h-1zM528.0 0h1v1h-1zM529.0 0h1v1h-1zM530.0 0h1v1h-1zM540.0 0h2v1h-2zM542.0 0h1v1h-1zM543.0 0h3v1h-3zM546.0 0h3v1h-3zM551.0 0h3v1h-3zM554.0 0h2v1h-2zM556.0 0h2v1h-2zM563.0 0h1v1h-1zM573.0 0h1v1h-1zM574.0 0h1v1h-1zM576.0 0h3v1h-3zM583.0 0h1v1h-1zM584.0 0h3v1h-3zM601.0 0h1v1h-1zM631.0 0h1v1h-1zM632.0 0h3v1h-3zM639.0 0h1v1h-1zM641.0 0h2v1h-2zM644.0 0h1v1h-1zM646.0 0h3v1h-3zM652.0 0h2v1h-2zM656.0 0h1v1h-1z"/><path fill="#f9f9f9" d="M483.0 0h1v1h-1zM484.0 0h1v1h-1zM488.0 0h1v1h-1zM491.0 0h1v1h-1zM498.0 0h3v1h-3zM502.0 0h2v1h-2zM505.0 0h1v1h-1zM511.0 0h2v1h-2zM517.0 0h1v1h-1zM522.0 0h3v1h-3zM531.0 0h2v1h-2zM534.0 0h3v1h-3zM539.0 0h1v1h-1zM549.0 0h1v1h-1zM558.0 0h1v1h-1zM560.0 0h1v1h-1zM565.0 0h3v1h-3zM575.0 0h1v1h-1zM580.0 0h2v1h-2zM589.0 0h1v1h-1zM595.0 0h3v1h-3zM598.0 0h1v1h-1zM604.0 0h2v1h-2zM611.0 0h2v1h-2zM614.0 0h2v1h-2zM630.0 0h1v1h-1zM635.0 0h1v1h-1zM636.0 0h3v1h-3zM643.0 0h1v1h-1zM645.0 0h1v1h-1zM660.0 0h2v1h-2zM665.0 0h1v1h-1zM666.0 0h2v1h-2zM669.0 0h1v1h-1zM675.0 0h0.6v1h-0.6z"/><path fill="#fcfcfc" d="M492.0 0h2v1h-2zM495.0 0h1v1h-1zM513.0 0h2v1h-2zM518.0 0h1v1h-1zM519.0 0h3v1h-3zM533.0 0h1v1h-1zM537.0 0h1v1h-1zM550.0 0h1v1h-1zM559.0 0h1v1h-1zM561.0 0h2v1h-2zM564.0 0h1v1h-1zM568.0 0h3v1h-3zM571.0 0h2v1h-2zM579.0 0h1v1h-1zM582.0 0h1v1h-1zM587.0 0h2v1h-2zM593.0 0h2v1h-2zM599.0 0h2v1h-2zM606.0 0h3v1h-3zM609.0 0h2v1h-2zM616.0 0h2v1h-2zM621.0 0h2v1h-2zM624.0 0h2v1h-2zM626.0 0h3v1h-3zM629.0 0h1v1h-1zM640.0 0h1v1h-1zM649.0 0h3v1h-3zM657.0 0h3v1h-3zM662.0 0h3v1h-3zM670.0 0h1v1h-1zM673.0 0h2v1h-2z"/><path fill="#ffffff" d="M515.0 0h1v1h-1zM516.0 0h1v1h-1zM591.0 0h2v1h-2zM618.0 0h1v1h-1zM668.0 0h1v1h-1zM671.0 0h2v1h-2z"/></g><g transform="translate(0,119.42) scale(1,16.370)" shape-rendering="crispEdges"><path fill="#f6f6f6" d="M528.0 0h1v1h-1zM559.0 0h1v1h-1zM589.0 0h1v1h-1zM591.0 0h2v1h-2zM613.0 0h1v1h-1zM619.0 0h2v1h-2zM646.0 0h3v1h-3zM656.0 0h1v1h-1z"/><path fill="#f9f9f9" d="M482.0 0h1v1h-1zM485.0 0h3v1h-3zM488.0 0h1v1h-1zM489.0 0h2v1h-2zM491.0 0h1v1h-1zM494.0 0h1v1h-1zM495.0 0h1v1h-1zM496.0 0h2v1h-2zM498.0 0h3v1h-3zM504.0 0h1v1h-1zM505.0 0h1v1h-1zM506.0 0h2v1h-2zM508.0 0h1v1h-1zM509.0 0h1v1h-1zM510.0 0h1v1h-1zM511.0 0h2v1h-2zM513.0 0h2v1h-2zM517.0 0h1v1h-1zM519.0 0h3v1h-3zM526.0 0h1v1h-1zM527.0 0h1v1h-1zM531.0 0h2v1h-2zM534.0 0h3v1h-3zM538.0 0h1v1h-1zM539.0 0h1v1h-1zM540.0 0h2v1h-2zM546.0 0h3v1h-3zM550.0 0h1v1h-1zM551.0 0h3v1h-3zM556.0 0h2v1h-2zM560.0 0h1v1h-1zM561.0 0h2v1h-2zM563.0 0h1v1h-1zM565.0 0h3v1h-3zM568.0 0h3v1h-3zM571.0 0h2v1h-2zM575.0 0h1v1h-1zM579.0 0h1v1h-1zM580.0 0h2v1h-2zM584.0 0h3v1h-3zM590.0 0h1v1h-1zM595.0 0h3v1h-3zM601.0 0h1v1h-1zM602.0 0h2v1h-2zM604.0 0h2v1h-2zM611.0 0h2v1h-2zM616.0 0h2v1h-2zM623.0 0h1v1h-1zM626.0 0h3v1h-3zM629.0 0h1v1h-1zM632.0 0h3v1h-3zM639.0 0h1v1h-1zM644.0 0h1v1h-1zM645.0 0h1v1h-1zM652.0 0h2v1h-2zM654.0 0h2v1h-2zM660.0 0h2v1h-2zM662.0 0h3v1h-3zM675.0 0h0.6v1h-0.6z"/><path fill="#fcfcfc" d="M483.0 0h1v1h-1zM484.0 0h1v1h-1zM492.0 0h2v1h-2zM501.0 0h1v1h-1zM502.0 0h2v1h-2zM515.0 0h1v1h-1zM516.0 0h1v1h-1zM518.0 0h1v1h-1zM522.0 0h3v1h-3zM525.0 0h1v1h-1zM529.0 0h1v1h-1zM530.0 0h1v1h-1zM533.0 0h1v1h-1zM537.0 0h1v1h-1zM542.0 0h1v1h-1zM543.0 0h3v1h-3zM549.0 0h1v1h-1zM554.0 0h2v1h-2zM558.0 0h1v1h-1zM564.0 0h1v1h-1zM573.0 0h1v1h-1zM574.0 0h1v1h-1zM576.0 0h3v1h-3zM582.0 0h1v1h-1zM583.0 0h1v1h-1zM587.0 0h2v1h-2zM593.0 0h2v1h-2zM598.0 0h1v1h-1zM599.0 0h2v1h-2zM606.0 0h3v1h-3zM609.0 0h2v1h-2zM614.0 0h2v1h-2zM618.0 0h1v1h-1zM621.0 0h2v1h-2zM624.0 0h2v1h-2zM630.0 0h1v1h-1zM631.0 0h1v1h-1zM636.0 0h3v1h-3zM640.0 0h1v1h-1zM641.0 0h2v1h-2zM643.0 0h1v1h-1zM657.0 0h3v1h-3zM665.0 0h1v1h-1zM666.0 0h2v1h-2zM668.0 0h1v1h-1zM669.0 0h1v1h-1zM670.0 0h1v1h-1zM673.0 0h2v1h-2z"/><path fill="#ffffff" d="M635.0 0h1v1h-1zM649.0 0h3v1h-3zM671.0 0h2v1h-2z"/></g><line x1="482.00" y1="21.20" x2="675.60" y2="21.20" stroke="#c8c8c8" stroke-width="1"/><line x1="482.00" y1="37.57" x2="675.60" y2="37.57" stroke="#111" stroke-width="2"/><line x1="482.00" y1="53.94" x2="675.60" y2="53.94" stroke="#111" stroke-width="2"/><line x1="482.00" y1="70.31" x2="675.60" y2="70.31" stroke="#d4d4d4" stroke-width="1"/><line x1="482.00" y1="86.68" x2="675.60" y2="86.68" stroke="#c8c8c8" stroke-width="1"/><line x1="482.00" y1="103.05" x2="675.60" y2="103.05" stroke="#1a1a1a" stroke-width="2"/><line x1="482.00" y1="119.42" x2="675.60" y2="119.42" stroke="#2a2a2a" stroke-width="1.5"/><line x1="482.00" y1="135.79" x2="675.60" y2="135.79" stroke="#eeeeee" stroke-width="1"/><line x1="470.00" y1="21.20" x2="473.50" y2="21.20" stroke="#444" stroke-width="0.9"/><circle cx="463.20" cy="21.20" r="4.8" fill="url(#s0)" stroke="#9c8820" stroke-width="0.45"/><line x1="470.00" y1="37.57" x2="473.50" y2="37.57" stroke="#444" stroke-width="0.9"/><circle cx="463.20" cy="37.57" r="4.8" fill="url(#s1)" stroke="#749b19" stroke-width="0.45"/><line x1="470.00" y1="53.94" x2="473.50" y2="53.94" stroke="#444" stroke-width="0.9"/><circle cx="463.20" cy="53.94" r="4.8" fill="url(#s2)" stroke="#10681d" stroke-width="0.45"/><line x1="470.00" y1="70.31" x2="473.50" y2="70.31" stroke="#444" stroke-width="0.9"/><circle cx="463.20" cy="70.31" r="4.8" fill="url(#s3)" stroke="#8b1056" stroke-width="0.45"/><line x1="470.00" y1="86.68" x2="473.50" y2="86.68" stroke="#444" stroke-width="0.9"/><circle cx="463.20" cy="86.68" r="4.8" fill="url(#s4)" stroke="#115b78" stroke-width="0.45"/><line x1="470.00" y1="103.05" x2="473.50" y2="103.05" stroke="#444" stroke-width="0.9"/><circle cx="463.20" cy="103.05" r="4.8" fill="url(#s5)" stroke="#2a0d75" stroke-width="0.45"/><line x1="470.00" y1="119.42" x2="473.50" y2="119.42" stroke="#444" stroke-width="0.9"/><circle cx="463.20" cy="119.42" r="4.8" fill="url(#s6)" stroke="#2c0a3a" stroke-width="0.45"/><line x1="470.00" y1="135.79" x2="473.50" y2="135.79" stroke="#444" stroke-width="0.9"/><circle cx="463.20" cy="135.79" r="4.8" fill="url(#s7)" stroke="#0d2c85" stroke-width="0.45"/><line x1="482.00" y1="141.30" x2="482.00" y2="144.80" stroke="#333" stroke-width="0.9"/><text x="474.27" y="156.90" font-size="10.5" text-anchor="start" textLength="15.45" lengthAdjust="spacingAndGlyphs" fill="#000">0.0</text><line x1="520.68" y1="141.30" x2="520.68" y2="144.80" stroke="#333" stroke-width="0.9"/><text x="512.96" y="156.90" font-size="10.5" text-anchor="start" textLength="15.22" lengthAdjust="spacingAndGlyphs" fill="#000">0.2</text><line x1="559.36" y1="141.30" x2="559.36" y2="144.80" stroke="#333" stroke-width="0.9"/><text x="551.63" y="156.90" font-size="10.5" text-anchor="start" textLength="15.44" lengthAdjust="spacingAndGlyphs" fill="#000">0.4</text><line x1="598.04" y1="141.30" x2="598.04" y2="144.80" stroke="#333" stroke-width="0.9"/><text x="590.31" y="156.90" font-size="10.5" text-anchor="start" textLength="15.54" lengthAdjust="spacingAndGlyphs" fill="#000">0.6</text><line x1="636.72" y1="141.30" x2="636.72" y2="144.80" stroke="#333" stroke-width="0.9"/><text x="628.99" y="156.90" font-size="10.5" text-anchor="start" textLength="15.48" lengthAdjust="spacingAndGlyphs" fill="#000">0.8</text><line x1="675.40" y1="141.30" x2="675.40" y2="144.80" stroke="#333" stroke-width="0.9"/><text x="667.70" y="156.90" font-size="10.5" text-anchor="start" textLength="15.42" lengthAdjust="spacingAndGlyphs" fill="#000">1.0</text><text x="545.37" y="171.60" font-size="10.5" text-anchor="start" textLength="67.74" lengthAdjust="spacingAndGlyphs" fill="#000">MD Time [<tspan font-style="italic">μ</tspan>s]</text><rect x="473.50" y="15.60" width="211.60" height="125.70" fill="none" stroke="#333" stroke-width="1"/><g transform="translate(0,204.20) scale(1,16.370)" shape-rendering="crispEdges"><path fill="#999999" d="M339.5 0h2v1h-2z"/><path fill="#9c9c9c" d="M272.5 0h1v1h-1zM336.5 0h1v1h-1zM345.5 0h1v1h-1z"/><path fill="#9f9f9f" d="M256.5 0h1v1h-1z"/><path fill="#a2a2a2" d="M308.5 0h1v1h-1zM327.5 0h2v1h-2zM368.5 0h3v1h-3z"/><path fill="#a5a5a5" d="M260.5 0h1v1h-1zM282.5 0h1v1h-1zM299.5 0h3v1h-3zM386.5 0h1v1h-1zM410.5 0h1v1h-1z"/><path fill="#a8a8a8" d="M228.5 0h1v1h-1zM298.5 0h1v1h-1zM321.5 0h1v1h-1zM337.5 0h2v1h-2zM341.5 0h1v1h-1zM361.5 0h2v1h-2zM371.5 0h3v1h-3z"/><path fill="#ababab" d="M245.5 0h1v1h-1zM255.5 0h1v1h-1zM316.5 0h2v1h-2zM332.5 0h2v1h-2zM359.5 0h1v1h-1zM403.5 0h1v1h-1zM414.5 0h2v1h-2zM418.5 0h2v1h-2z"/><path fill="#aeaeae" d="M261.5 0h2v1h-2zM273.5 0h1v1h-1zM276.5 0h1v1h-1zM277.5 0h1v1h-1zM278.5 0h1v1h-1zM280.5 0h2v1h-2zM309.5 0h2v1h-2zM334.5 0h2v1h-2zM346.5 0h1v1h-1zM411.5 0h1v1h-1zM412.5 0h1v1h-1zM420.5 0h1.5v1h-1.5z"/><path fill="#b1b1b1" d="M266.5 0h1v1h-1zM279.5 0h1v1h-1zM296.5 0h1v1h-1zM305.5 0h3v1h-3zM311.5 0h1v1h-1zM380.5 0h2v1h-2zM397.5 0h1v1h-1z"/><path fill="#b4b4b4" d="M241.5 0h3v1h-3zM304.5 0h1v1h-1zM322.5 0h3v1h-3zM326.5 0h1v1h-1zM409.5 0h1v1h-1z"/><path fill="#b7b7b7" d="M234.5 0h1v1h-1zM244.5 0h1v1h-1zM249.5 0h2v1h-2zM252.5 0h2v1h-2zM258.5 0h1v1h-1zM274.5 0h2v1h-2zM286.5 0h2v1h-2zM377.5 0h2v1h-2zM398.5 0h1v1h-1zM404.5 0h2v1h-2z"/><path fill="#bababa" d="M236.5 0h2v1h-2zM270.5 0h2v1h-2zM284.5 0h2v1h-2zM289.5 0h2v1h-2zM291.5 0h1v1h-1zM303.5 0h1v1h-1zM329.5 0h2v1h-2zM331.5 0h1v1h-1zM363.5 0h3v1h-3zM395.5 0h1v1h-1zM406.5 0h3v1h-3z"/><path fill="#bdbdbd" d="M238.5 0h3v1h-3zM246.5 0h2v1h-2zM288.5 0h1v1h-1zM302.5 0h1v1h-1zM312.5 0h2v1h-2zM314.5 0h2v1h-2zM350.5 0h2v1h-2zM367.5 0h1v1h-1z"/><path fill="#c0c0c0" d="M248.5 0h1v1h-1zM318.5 0h3v1h-3zM325.5 0h1v1h-1zM354.5 0h1v1h-1zM356.5 0h1v1h-1zM360.5 0h1v1h-1zM375.5 0h2v1h-2zM383.5 0h1v1h-1zM384.5 0h2v1h-2zM390.5 0h2v1h-2z"/><path fill="#c3c3c3" d="M254.5 0h1v1h-1zM263.5 0h3v1h-3zM268.5 0h2v1h-2zM283.5 0h1v1h-1zM352.5 0h1v1h-1zM374.5 0h1v1h-1zM393.5 0h1v1h-1z"/><path fill="#c6c6c6" d="M230.5 0h2v1h-2zM259.5 0h1v1h-1zM357.5 0h2v1h-2zM366.5 0h1v1h-1zM379.5 0h1v1h-1zM388.5 0h2v1h-2z"/><path fill="#c9c9c9" d="M342.5 0h3v1h-3zM400.5 0h3v1h-3zM413.5 0h1v1h-1z"/><path fill="#cccccc" d="M232.5 0h2v1h-2zM235.5 0h1v1h-1zM257.5 0h1v1h-1zM292.5 0h3v1h-3zM348.5 0h2v1h-2zM382.5 0h1v1h-1zM387.5 0h1v1h-1zM394.5 0h1v1h-1zM396.5 0h1v1h-1z"/><path fill="#cfcfcf" d="M251.5 0h1v1h-1zM295.5 0h1v1h-1z"/><path fill="#d2d2d2" d="M267.5 0h1v1h-1zM297.5 0h1v1h-1zM347.5 0h1v1h-1zM353.5 0h1v1h-1zM355.5 0h1v1h-1zM416.5 0h2v1h-2z"/><path fill="#d8d8d8" d="M392.5 0h1v1h-1z"/><path fill="#dbdbdb" d="M229.5 0h1v1h-1zM399.5 0h1v1h-1z"/></g><g transform="translate(0,220.57) scale(1,16.370)" shape-rendering="crispEdges"><path fill="#000000" d="M318.5 0h3v1h-3z"/><path fill="#030303" d="M273.5 0h1v1h-1zM282.5 0h1v1h-1zM363.5 0h3v1h-3zM395.5 0h1v1h-1zM403.5 0h1v1h-1zM418.5 0h2v1h-2z"/><path fill="#060606" d="M272.5 0h1v1h-1zM331.5 0h1v1h-1zM337.5 0h2v1h-2zM345.5 0h1v1h-1z"/><path fill="#090909" d="M260.5 0h1v1h-1zM278.5 0h1v1h-1zM339.5 0h2v1h-2zM341.5 0h1v1h-1zM368.5 0h3v1h-3zM371.5 0h3v1h-3z"/><path fill="#0c0c0c" d="M229.5 0h1v1h-1zM230.5 0h2v1h-2zM256.5 0h1v1h-1zM263.5 0h3v1h-3zM302.5 0h1v1h-1zM304.5 0h1v1h-1zM308.5 0h1v1h-1zM309.5 0h2v1h-2zM311.5 0h1v1h-1zM316.5 0h2v1h-2zM336.5 0h1v1h-1zM342.5 0h3v1h-3zM353.5 0h1v1h-1zM355.5 0h1v1h-1zM356.5 0h1v1h-1zM377.5 0h2v1h-2zM400.5 0h3v1h-3z"/><path fill="#0f0f0f" d="M241.5 0h3v1h-3zM248.5 0h1v1h-1zM257.5 0h1v1h-1zM270.5 0h2v1h-2zM277.5 0h1v1h-1zM280.5 0h2v1h-2zM283.5 0h1v1h-1zM284.5 0h2v1h-2zM292.5 0h3v1h-3zM312.5 0h2v1h-2zM314.5 0h2v1h-2zM322.5 0h3v1h-3zM325.5 0h1v1h-1zM327.5 0h2v1h-2zM332.5 0h2v1h-2zM347.5 0h1v1h-1zM348.5 0h2v1h-2zM352.5 0h1v1h-1zM357.5 0h2v1h-2zM359.5 0h1v1h-1zM374.5 0h1v1h-1zM386.5 0h1v1h-1zM392.5 0h1v1h-1zM397.5 0h1v1h-1z"/><path fill="#121212" d="M246.5 0h2v1h-2zM252.5 0h2v1h-2zM255.5 0h1v1h-1zM258.5 0h1v1h-1zM261.5 0h2v1h-2zM267.5 0h1v1h-1zM268.5 0h2v1h-2zM286.5 0h2v1h-2zM288.5 0h1v1h-1zM303.5 0h1v1h-1zM334.5 0h2v1h-2zM367.5 0h1v1h-1zM379.5 0h1v1h-1zM384.5 0h2v1h-2zM393.5 0h1v1h-1zM396.5 0h1v1h-1zM404.5 0h2v1h-2zM410.5 0h1v1h-1zM411.5 0h1v1h-1zM412.5 0h1v1h-1z"/><path fill="#151515" d="M228.5 0h1v1h-1zM234.5 0h1v1h-1zM235.5 0h1v1h-1zM236.5 0h2v1h-2zM249.5 0h2v1h-2zM251.5 0h1v1h-1zM259.5 0h1v1h-1zM266.5 0h1v1h-1zM298.5 0h1v1h-1zM305.5 0h3v1h-3zM326.5 0h1v1h-1zM350.5 0h2v1h-2zM360.5 0h1v1h-1zM361.5 0h2v1h-2zM380.5 0h2v1h-2zM383.5 0h1v1h-1zM388.5 0h2v1h-2zM398.5 0h1v1h-1zM406.5 0h3v1h-3zM409.5 0h1v1h-1z"/><path fill="#181818" d="M232.5 0h2v1h-2zM238.5 0h3v1h-3zM245.5 0h1v1h-1zM279.5 0h1v1h-1zM289.5 0h2v1h-2zM291.5 0h1v1h-1zM295.5 0h1v1h-1zM296.5 0h1v1h-1zM299.5 0h3v1h-3zM329.5 0h2v1h-2zM346.5 0h1v1h-1zM354.5 0h1v1h-1zM366.5 0h1v1h-1zM382.5 0h1v1h-1zM387.5 0h1v1h-1zM394.5 0h1v1h-1zM414.5 0h2v1h-2z"/><path fill="#1b1b1b" d="M244.5 0h1v1h-1zM254.5 0h1v1h-1zM274.5 0h2v1h-2zM276.5 0h1v1h-1zM297.5 0h1v1h-1zM321.5 0h1v1h-1zM375.5 0h2v1h-2zM390.5 0h2v1h-2zM399.5 0h1v1h-1zM413.5 0h1v1h-1zM420.5 0h1.5v1h-1.5z"/><path fill="#212121" d="M416.5 0h2v1h-2z"/></g><g transform="translate(0,236.94) scale(1,16.370)" shape-rendering="crispEdges"><path fill="#cfcfcf" d="M359.5 0h1v1h-1z"/><path fill="#d5d5d5" d="M228.5 0h1v1h-1zM366.5 0h1v1h-1z"/><path fill="#d8d8d8" d="M397.5 0h1v1h-1z"/><path fill="#dbdbdb" d="M249.5 0h2v1h-2zM257.5 0h1v1h-1zM260.5 0h1v1h-1zM263.5 0h3v1h-3zM298.5 0h1v1h-1zM303.5 0h1v1h-1zM360.5 0h1v1h-1z"/><path fill="#dedede" d="M229.5 0h1v1h-1zM236.5 0h2v1h-2zM251.5 0h1v1h-1zM261.5 0h2v1h-2zM318.5 0h3v1h-3zM371.5 0h3v1h-3zM375.5 0h2v1h-2zM383.5 0h1v1h-1zM406.5 0h3v1h-3zM409.5 0h1v1h-1zM410.5 0h1v1h-1z"/><path fill="#e1e1e1" d="M232.5 0h2v1h-2zM238.5 0h3v1h-3zM255.5 0h1v1h-1zM256.5 0h1v1h-1zM282.5 0h1v1h-1zM295.5 0h1v1h-1zM305.5 0h3v1h-3zM316.5 0h2v1h-2zM336.5 0h1v1h-1zM353.5 0h1v1h-1zM363.5 0h3v1h-3zM411.5 0h1v1h-1zM420.5 0h1.5v1h-1.5z"/><path fill="#e4e4e4" d="M235.5 0h1v1h-1zM246.5 0h2v1h-2zM268.5 0h2v1h-2zM278.5 0h1v1h-1zM280.5 0h2v1h-2zM288.5 0h1v1h-1zM292.5 0h3v1h-3zM321.5 0h1v1h-1zM342.5 0h3v1h-3zM347.5 0h1v1h-1zM350.5 0h2v1h-2zM354.5 0h1v1h-1zM361.5 0h2v1h-2zM367.5 0h1v1h-1zM386.5 0h1v1h-1zM390.5 0h2v1h-2zM403.5 0h1v1h-1z"/><path fill="#e7e7e7" d="M234.5 0h1v1h-1zM245.5 0h1v1h-1zM286.5 0h2v1h-2zM291.5 0h1v1h-1zM297.5 0h1v1h-1zM312.5 0h2v1h-2zM322.5 0h3v1h-3zM325.5 0h1v1h-1zM329.5 0h2v1h-2zM332.5 0h2v1h-2zM346.5 0h1v1h-1zM368.5 0h3v1h-3zM382.5 0h1v1h-1zM394.5 0h1v1h-1zM396.5 0h1v1h-1zM412.5 0h1v1h-1zM416.5 0h2v1h-2z"/><path fill="#eaeaea" d="M267.5 0h1v1h-1zM279.5 0h1v1h-1zM289.5 0h2v1h-2zM311.5 0h1v1h-1zM341.5 0h1v1h-1zM345.5 0h1v1h-1zM357.5 0h2v1h-2zM374.5 0h1v1h-1zM377.5 0h2v1h-2zM398.5 0h1v1h-1z"/><path fill="#ededed" d="M241.5 0h3v1h-3zM258.5 0h1v1h-1zM276.5 0h1v1h-1zM302.5 0h1v1h-1zM314.5 0h2v1h-2zM327.5 0h2v1h-2zM331.5 0h1v1h-1zM337.5 0h2v1h-2zM339.5 0h2v1h-2zM348.5 0h2v1h-2zM352.5 0h1v1h-1zM356.5 0h1v1h-1zM379.5 0h1v1h-1zM380.5 0h2v1h-2zM388.5 0h2v1h-2zM392.5 0h1v1h-1zM393.5 0h1v1h-1zM404.5 0h2v1h-2z"/><path fill="#f0f0f0" d="M244.5 0h1v1h-1zM266.5 0h1v1h-1zM270.5 0h2v1h-2zM273.5 0h1v1h-1zM274.5 0h2v1h-2zM277.5 0h1v1h-1zM299.5 0h3v1h-3zM304.5 0h1v1h-1zM326.5 0h1v1h-1zM334.5 0h2v1h-2zM355.5 0h1v1h-1zM399.5 0h1v1h-1z"/><path fill="#f3f3f3" d="M248.5 0h1v1h-1zM254.5 0h1v1h-1zM259.5 0h1v1h-1zM272.5 0h1v1h-1zM283.5 0h1v1h-1zM308.5 0h1v1h-1zM384.5 0h2v1h-2zM400.5 0h3v1h-3z"/><path fill="#f6f6f6" d="M296.5 0h1v1h-1zM395.5 0h1v1h-1z"/><path fill="#f9f9f9" d="M230.5 0h2v1h-2zM387.5 0h1v1h-1zM413.5 0h1v1h-1zM414.5 0h2v1h-2z"/><path fill="#fcfcfc" d="M252.5 0h2v1h-2zM284.5 0h2v1h-2zM309.5 0h2v1h-2zM418.5 0h2v1h-2z"/></g><g transform="translate(0,253.31) scale(1,16.370)" shape-rendering="crispEdges"><path fill="#cfcfcf" d="M228.5 0h1v1h-1zM256.5 0h1v1h-1zM410.5 0h1v1h-1z"/><path fill="#d2d2d2" d="M229.5 0h1v1h-1zM366.5 0h1v1h-1zM371.5 0h3v1h-3z"/><path fill="#d5d5d5" d="M261.5 0h2v1h-2zM303.5 0h1v1h-1zM311.5 0h1v1h-1zM318.5 0h3v1h-3zM322.5 0h3v1h-3zM352.5 0h1v1h-1zM353.5 0h1v1h-1zM357.5 0h2v1h-2zM359.5 0h1v1h-1zM374.5 0h1v1h-1zM397.5 0h1v1h-1z"/><path fill="#d8d8d8" d="M232.5 0h2v1h-2zM245.5 0h1v1h-1zM258.5 0h1v1h-1zM286.5 0h2v1h-2zM316.5 0h2v1h-2zM354.5 0h1v1h-1zM367.5 0h1v1h-1zM383.5 0h1v1h-1zM394.5 0h1v1h-1zM411.5 0h1v1h-1z"/><path fill="#dbdbdb" d="M236.5 0h2v1h-2zM246.5 0h2v1h-2zM257.5 0h1v1h-1zM298.5 0h1v1h-1zM305.5 0h3v1h-3zM321.5 0h1v1h-1zM326.5 0h1v1h-1zM336.5 0h1v1h-1zM363.5 0h3v1h-3zM375.5 0h2v1h-2zM377.5 0h2v1h-2zM379.5 0h1v1h-1zM406.5 0h3v1h-3zM412.5 0h1v1h-1z"/><path fill="#dedede" d="M238.5 0h3v1h-3zM251.5 0h1v1h-1zM259.5 0h1v1h-1zM270.5 0h2v1h-2zM334.5 0h2v1h-2zM356.5 0h1v1h-1zM360.5 0h1v1h-1zM396.5 0h1v1h-1zM404.5 0h2v1h-2zM420.5 0h1.5v1h-1.5z"/><path fill="#e1e1e1" d="M249.5 0h2v1h-2zM267.5 0h1v1h-1zM276.5 0h1v1h-1zM278.5 0h1v1h-1zM292.5 0h3v1h-3zM329.5 0h2v1h-2zM332.5 0h2v1h-2zM337.5 0h2v1h-2zM382.5 0h1v1h-1zM392.5 0h1v1h-1zM393.5 0h1v1h-1zM403.5 0h1v1h-1zM409.5 0h1v1h-1z"/><path fill="#e4e4e4" d="M241.5 0h3v1h-3zM295.5 0h1v1h-1zM296.5 0h1v1h-1zM312.5 0h2v1h-2zM325.5 0h1v1h-1zM327.5 0h2v1h-2zM331.5 0h1v1h-1zM341.5 0h1v1h-1zM347.5 0h1v1h-1zM361.5 0h2v1h-2zM368.5 0h3v1h-3zM384.5 0h2v1h-2zM386.5 0h1v1h-1zM395.5 0h1v1h-1zM400.5 0h3v1h-3zM416.5 0h2v1h-2z"/><path fill="#e7e7e7" d="M230.5 0h2v1h-2zM244.5 0h1v1h-1zM248.5 0h1v1h-1zM254.5 0h1v1h-1zM255.5 0h1v1h-1zM263.5 0h3v1h-3zM266.5 0h1v1h-1zM282.5 0h1v1h-1zM291.5 0h1v1h-1zM299.5 0h3v1h-3zM355.5 0h1v1h-1zM413.5 0h1v1h-1z"/><path fill="#eaeaea" d="M235.5 0h1v1h-1zM260.5 0h1v1h-1zM268.5 0h2v1h-2zM279.5 0h1v1h-1zM280.5 0h2v1h-2zM283.5 0h1v1h-1zM289.5 0h2v1h-2zM302.5 0h1v1h-1zM346.5 0h1v1h-1zM348.5 0h2v1h-2zM380.5 0h2v1h-2zM390.5 0h2v1h-2zM399.5 0h1v1h-1z"/><path fill="#ededed" d="M252.5 0h2v1h-2zM273.5 0h1v1h-1zM274.5 0h2v1h-2zM277.5 0h1v1h-1zM297.5 0h1v1h-1zM304.5 0h1v1h-1zM309.5 0h2v1h-2zM314.5 0h2v1h-2zM350.5 0h2v1h-2zM398.5 0h1v1h-1zM414.5 0h2v1h-2z"/><path fill="#f0f0f0" d="M272.5 0h1v1h-1zM339.5 0h2v1h-2zM342.5 0h3v1h-3zM345.5 0h1v1h-1zM418.5 0h2v1h-2z"/><path fill="#f3f3f3" d="M234.5 0h1v1h-1zM388.5 0h2v1h-2z"/><path fill="#f6f6f6" d="M288.5 0h1v1h-1zM308.5 0h1v1h-1zM387.5 0h1v1h-1z"/><path fill="#fcfcfc" d="M284.5 0h2v1h-2z"/></g><g transform="translate(0,269.68) scale(1,16.370)" shape-rendering="crispEdges"><path fill="#bababa" d="M256.5 0h1v1h-1z"/><path fill="#c6c6c6" d="M229.5 0h1v1h-1zM258.5 0h1v1h-1zM316.5 0h2v1h-2zM329.5 0h2v1h-2zM354.5 0h1v1h-1zM359.5 0h1v1h-1z"/><path fill="#c9c9c9" d="M228.5 0h1v1h-1z"/><path fill="#cccccc" d="M259.5 0h1v1h-1zM367.5 0h1v1h-1zM382.5 0h1v1h-1zM403.5 0h1v1h-1z"/><path fill="#cfcfcf" d="M232.5 0h2v1h-2zM260.5 0h1v1h-1zM261.5 0h2v1h-2zM303.5 0h1v1h-1zM318.5 0h3v1h-3zM326.5 0h1v1h-1zM360.5 0h1v1h-1zM406.5 0h3v1h-3zM412.5 0h1v1h-1z"/><path fill="#d2d2d2" d="M236.5 0h2v1h-2zM254.5 0h1v1h-1zM257.5 0h1v1h-1zM295.5 0h1v1h-1zM296.5 0h1v1h-1zM305.5 0h3v1h-3zM314.5 0h2v1h-2zM322.5 0h3v1h-3zM357.5 0h2v1h-2zM363.5 0h3v1h-3zM371.5 0h3v1h-3zM375.5 0h2v1h-2zM377.5 0h2v1h-2zM386.5 0h1v1h-1zM410.5 0h1v1h-1z"/><path fill="#d5d5d5" d="M246.5 0h2v1h-2zM270.5 0h2v1h-2zM304.5 0h1v1h-1zM311.5 0h1v1h-1zM341.5 0h1v1h-1zM374.5 0h1v1h-1zM393.5 0h1v1h-1zM394.5 0h1v1h-1zM397.5 0h1v1h-1zM409.5 0h1v1h-1z"/><path fill="#d8d8d8" d="M234.5 0h1v1h-1zM241.5 0h3v1h-3zM244.5 0h1v1h-1zM249.5 0h2v1h-2zM251.5 0h1v1h-1zM263.5 0h3v1h-3zM266.5 0h1v1h-1zM272.5 0h1v1h-1zM289.5 0h2v1h-2zM291.5 0h1v1h-1zM312.5 0h2v1h-2zM321.5 0h1v1h-1zM327.5 0h2v1h-2zM339.5 0h2v1h-2zM342.5 0h3v1h-3zM353.5 0h1v1h-1zM361.5 0h2v1h-2zM366.5 0h1v1h-1zM368.5 0h3v1h-3zM379.5 0h1v1h-1zM420.5 0h1.5v1h-1.5z"/><path fill="#dbdbdb" d="M245.5 0h1v1h-1zM255.5 0h1v1h-1zM286.5 0h2v1h-2zM298.5 0h1v1h-1zM348.5 0h2v1h-2zM350.5 0h2v1h-2zM355.5 0h1v1h-1zM356.5 0h1v1h-1zM392.5 0h1v1h-1z"/><path fill="#dedede" d="M238.5 0h3v1h-3zM252.5 0h2v1h-2zM273.5 0h1v1h-1zM279.5 0h1v1h-1zM280.5 0h2v1h-2zM288.5 0h1v1h-1zM292.5 0h3v1h-3zM332.5 0h2v1h-2zM388.5 0h2v1h-2zM398.5 0h1v1h-1zM413.5 0h1v1h-1z"/><path fill="#e1e1e1" d="M248.5 0h1v1h-1zM267.5 0h1v1h-1zM278.5 0h1v1h-1zM282.5 0h1v1h-1zM302.5 0h1v1h-1zM308.5 0h1v1h-1zM331.5 0h1v1h-1zM336.5 0h1v1h-1zM337.5 0h2v1h-2zM346.5 0h1v1h-1zM347.5 0h1v1h-1zM352.5 0h1v1h-1zM383.5 0h1v1h-1zM396.5 0h1v1h-1zM400.5 0h3v1h-3zM404.5 0h2v1h-2zM411.5 0h1v1h-1z"/><path fill="#e4e4e4" d="M235.5 0h1v1h-1zM268.5 0h2v1h-2zM276.5 0h1v1h-1zM297.5 0h1v1h-1zM345.5 0h1v1h-1zM387.5 0h1v1h-1zM416.5 0h2v1h-2zM418.5 0h2v1h-2z"/><path fill="#e7e7e7" d="M230.5 0h2v1h-2zM299.5 0h3v1h-3zM325.5 0h1v1h-1zM334.5 0h2v1h-2zM380.5 0h2v1h-2zM390.5 0h2v1h-2z"/><path fill="#eaeaea" d="M274.5 0h2v1h-2zM283.5 0h1v1h-1zM284.5 0h2v1h-2zM395.5 0h1v1h-1zM399.5 0h1v1h-1zM414.5 0h2v1h-2z"/><path fill="#ededed" d="M309.5 0h2v1h-2zM384.5 0h2v1h-2z"/><path fill="#f0f0f0" d="M277.5 0h1v1h-1z"/></g><g transform="translate(0,286.05) scale(1,16.370)" shape-rendering="crispEdges"><path fill="#e1e1e1" d="M261.5 0h2v1h-2zM379.5 0h1v1h-1z"/><path fill="#e4e4e4" d="M282.5 0h1v1h-1zM325.5 0h1v1h-1zM390.5 0h2v1h-2zM410.5 0h1v1h-1z"/><path fill="#e7e7e7" d="M257.5 0h1v1h-1zM259.5 0h1v1h-1zM284.5 0h2v1h-2zM295.5 0h1v1h-1zM297.5 0h1v1h-1zM309.5 0h2v1h-2zM326.5 0h1v1h-1zM354.5 0h1v1h-1zM357.5 0h2v1h-2zM398.5 0h1v1h-1zM413.5 0h1v1h-1zM420.5 0h1.5v1h-1.5z"/><path fill="#eaeaea" d="M236.5 0h2v1h-2zM241.5 0h3v1h-3zM252.5 0h2v1h-2zM263.5 0h3v1h-3zM270.5 0h2v1h-2zM302.5 0h1v1h-1zM303.5 0h1v1h-1zM304.5 0h1v1h-1zM331.5 0h1v1h-1zM337.5 0h2v1h-2zM342.5 0h3v1h-3zM347.5 0h1v1h-1zM356.5 0h1v1h-1zM363.5 0h3v1h-3zM377.5 0h2v1h-2zM383.5 0h1v1h-1zM388.5 0h2v1h-2zM395.5 0h1v1h-1zM397.5 0h1v1h-1zM400.5 0h3v1h-3z"/><path fill="#ededed" d="M235.5 0h1v1h-1zM244.5 0h1v1h-1zM249.5 0h2v1h-2zM254.5 0h1v1h-1zM258.5 0h1v1h-1zM260.5 0h1v1h-1zM268.5 0h2v1h-2zM279.5 0h1v1h-1zM280.5 0h2v1h-2zM291.5 0h1v1h-1zM298.5 0h1v1h-1zM299.5 0h3v1h-3zM311.5 0h1v1h-1zM318.5 0h3v1h-3zM329.5 0h2v1h-2zM346.5 0h1v1h-1zM348.5 0h2v1h-2zM350.5 0h2v1h-2zM355.5 0h1v1h-1zM374.5 0h1v1h-1zM384.5 0h2v1h-2zM387.5 0h1v1h-1zM394.5 0h1v1h-1zM396.5 0h1v1h-1zM404.5 0h2v1h-2z"/><path fill="#f0f0f0" d="M232.5 0h2v1h-2zM234.5 0h1v1h-1zM238.5 0h3v1h-3zM246.5 0h2v1h-2zM256.5 0h1v1h-1zM278.5 0h1v1h-1zM283.5 0h1v1h-1zM286.5 0h2v1h-2zM289.5 0h2v1h-2zM305.5 0h3v1h-3zM314.5 0h2v1h-2zM327.5 0h2v1h-2zM334.5 0h2v1h-2zM336.5 0h1v1h-1zM341.5 0h1v1h-1zM361.5 0h2v1h-2zM368.5 0h3v1h-3zM371.5 0h3v1h-3zM380.5 0h2v1h-2zM382.5 0h1v1h-1zM386.5 0h1v1h-1zM403.5 0h1v1h-1zM406.5 0h3v1h-3zM414.5 0h2v1h-2zM418.5 0h2v1h-2z"/><path fill="#f3f3f3" d="M228.5 0h1v1h-1zM245.5 0h1v1h-1zM248.5 0h1v1h-1zM251.5 0h1v1h-1zM255.5 0h1v1h-1zM267.5 0h1v1h-1zM272.5 0h1v1h-1zM276.5 0h1v1h-1zM277.5 0h1v1h-1zM316.5 0h2v1h-2zM321.5 0h1v1h-1zM332.5 0h2v1h-2zM345.5 0h1v1h-1zM353.5 0h1v1h-1zM375.5 0h2v1h-2zM392.5 0h1v1h-1zM393.5 0h1v1h-1zM411.5 0h1v1h-1z"/><path fill="#f6f6f6" d="M288.5 0h1v1h-1zM308.5 0h1v1h-1zM312.5 0h2v1h-2zM322.5 0h3v1h-3zM352.5 0h1v1h-1zM360.5 0h1v1h-1zM367.5 0h1v1h-1zM416.5 0h2v1h-2z"/><path fill="#f9f9f9" d="M229.5 0h1v1h-1zM230.5 0h2v1h-2zM266.5 0h1v1h-1zM273.5 0h1v1h-1zM274.5 0h2v1h-2zM292.5 0h3v1h-3zM296.5 0h1v1h-1zM339.5 0h2v1h-2zM359.5 0h1v1h-1zM366.5 0h1v1h-1zM409.5 0h1v1h-1zM412.5 0h1v1h-1z"/><path fill="#fcfcfc" d="M399.5 0h1v1h-1z"/></g><g transform="translate(0,302.42) scale(1,16.370)" shape-rendering="crispEdges"><path fill="#ededed" d="M386.5 0h1v1h-1zM394.5 0h1v1h-1z"/><path fill="#f0f0f0" d="M235.5 0h1v1h-1zM263.5 0h3v1h-3zM280.5 0h2v1h-2zM298.5 0h1v1h-1zM302.5 0h1v1h-1zM305.5 0h3v1h-3zM337.5 0h2v1h-2zM341.5 0h1v1h-1zM368.5 0h3v1h-3zM379.5 0h1v1h-1zM406.5 0h3v1h-3zM412.5 0h1v1h-1z"/><path fill="#f3f3f3" d="M236.5 0h2v1h-2zM244.5 0h1v1h-1zM246.5 0h2v1h-2zM257.5 0h1v1h-1zM261.5 0h2v1h-2zM278.5 0h1v1h-1zM279.5 0h1v1h-1zM286.5 0h2v1h-2zM289.5 0h2v1h-2zM299.5 0h3v1h-3zM303.5 0h1v1h-1zM311.5 0h1v1h-1zM321.5 0h1v1h-1zM325.5 0h1v1h-1zM326.5 0h1v1h-1zM327.5 0h2v1h-2zM329.5 0h2v1h-2zM334.5 0h2v1h-2zM342.5 0h3v1h-3zM357.5 0h2v1h-2zM380.5 0h2v1h-2zM392.5 0h1v1h-1zM397.5 0h1v1h-1zM409.5 0h1v1h-1zM416.5 0h2v1h-2zM420.5 0h1.5v1h-1.5z"/><path fill="#f6f6f6" d="M241.5 0h3v1h-3zM251.5 0h1v1h-1zM256.5 0h1v1h-1zM258.5 0h1v1h-1zM273.5 0h1v1h-1zM282.5 0h1v1h-1zM297.5 0h1v1h-1zM304.5 0h1v1h-1zM308.5 0h1v1h-1zM309.5 0h2v1h-2zM316.5 0h2v1h-2zM331.5 0h1v1h-1zM332.5 0h2v1h-2zM350.5 0h2v1h-2zM353.5 0h1v1h-1zM361.5 0h2v1h-2zM374.5 0h1v1h-1zM383.5 0h1v1h-1zM384.5 0h2v1h-2zM387.5 0h1v1h-1zM390.5 0h2v1h-2zM393.5 0h1v1h-1zM395.5 0h1v1h-1zM398.5 0h1v1h-1zM410.5 0h1v1h-1zM411.5 0h1v1h-1zM413.5 0h1v1h-1zM414.5 0h2v1h-2z"/><path fill="#f9f9f9" d="M228.5 0h1v1h-1zM232.5 0h2v1h-2zM234.5 0h1v1h-1zM238.5 0h3v1h-3zM249.5 0h2v1h-2zM254.5 0h1v1h-1zM259.5 0h1v1h-1zM260.5 0h1v1h-1zM266.5 0h1v1h-1zM267.5 0h1v1h-1zM270.5 0h2v1h-2zM272.5 0h1v1h-1zM276.5 0h1v1h-1zM277.5 0h1v1h-1zM283.5 0h1v1h-1zM284.5 0h2v1h-2zM292.5 0h3v1h-3zM295.5 0h1v1h-1zM314.5 0h2v1h-2zM318.5 0h3v1h-3zM322.5 0h3v1h-3zM336.5 0h1v1h-1zM345.5 0h1v1h-1zM346.5 0h1v1h-1zM347.5 0h1v1h-1zM348.5 0h2v1h-2zM354.5 0h1v1h-1zM356.5 0h1v1h-1zM359.5 0h1v1h-1zM363.5 0h3v1h-3zM366.5 0h1v1h-1zM367.5 0h1v1h-1zM371.5 0h3v1h-3zM375.5 0h2v1h-2zM377.5 0h2v1h-2zM388.5 0h2v1h-2zM400.5 0h3v1h-3z"/><path fill="#fcfcfc" d="M229.5 0h1v1h-1zM230.5 0h2v1h-2zM248.5 0h1v1h-1zM252.5 0h2v1h-2zM255.5 0h1v1h-1zM268.5 0h2v1h-2zM288.5 0h1v1h-1zM312.5 0h2v1h-2zM339.5 0h2v1h-2zM352.5 0h1v1h-1zM360.5 0h1v1h-1zM382.5 0h1v1h-1zM396.5 0h1v1h-1zM399.5 0h1v1h-1zM403.5 0h1v1h-1zM404.5 0h2v1h-2zM418.5 0h2v1h-2z"/><path fill="#ffffff" d="M245.5 0h1v1h-1zM274.5 0h2v1h-2zM291.5 0h1v1h-1zM296.5 0h1v1h-1zM355.5 0h1v1h-1z"/></g><line x1="228.50" y1="204.20" x2="422.00" y2="204.20" stroke="#c0c0c0" stroke-width="1"/><line x1="228.50" y1="220.57" x2="422.00" y2="220.57" stroke="#111" stroke-width="2"/><line x1="228.50" y1="236.94" x2="422.00" y2="236.94" stroke="#111" stroke-width="2"/><line x1="228.50" y1="253.31" x2="422.00" y2="253.31" stroke="#c8c8c8" stroke-width="1"/><line x1="228.50" y1="269.68" x2="422.00" y2="269.68" stroke="#c0c0c0" stroke-width="1"/><line x1="228.50" y1="286.05" x2="422.00" y2="286.05" stroke="#1a1a1a" stroke-width="2"/><line x1="228.50" y1="302.42" x2="422.00" y2="302.42" stroke="#2a2a2a" stroke-width="1.5"/><line x1="228.50" y1="318.79" x2="422.00" y2="318.79" stroke="#eeeeee" stroke-width="1"/><line x1="216.00" y1="204.20" x2="219.50" y2="204.20" stroke="#444" stroke-width="0.9"/><circle cx="209.70" cy="204.20" r="4.8" fill="url(#s0)" stroke="#9c8820" stroke-width="0.45"/><text x="157.52" y="208.10" font-size="10.5" text-anchor="start" textLength="43.07" lengthAdjust="spacingAndGlyphs" fill="#000">Vertexes</text><line x1="216.00" y1="220.57" x2="219.50" y2="220.57" stroke="#444" stroke-width="0.9"/><circle cx="209.70" cy="220.57" r="4.8" fill="url(#s1)" stroke="#749b19" stroke-width="0.45"/><text x="170.42" y="225.10" font-size="10.5" text-anchor="start" textLength="30.16" lengthAdjust="spacingAndGlyphs" fill="#000">Edges</text><line x1="216.00" y1="236.94" x2="219.50" y2="236.94" stroke="#444" stroke-width="0.9"/><circle cx="209.70" cy="236.94" r="4.8" fill="url(#s2)" stroke="#10681d" stroke-width="0.45"/><text x="173.01" y="241.10" font-size="10.5" text-anchor="start" textLength="27.55" lengthAdjust="spacingAndGlyphs" fill="#000">Faces</text><line x1="216.00" y1="253.31" x2="219.50" y2="253.31" stroke="#444" stroke-width="0.9"/><circle cx="209.70" cy="253.31" r="4.8" fill="url(#s3)" stroke="#8b1056" stroke-width="0.45"/><text x="157.60" y="257.10" font-size="10.5" text-anchor="start" textLength="43.08" lengthAdjust="spacingAndGlyphs" fill="#000">Concave</text><line x1="216.00" y1="269.68" x2="219.50" y2="269.68" stroke="#444" stroke-width="0.9"/><circle cx="209.70" cy="269.68" r="4.8" fill="url(#s4)" stroke="#115b78" stroke-width="0.45"/><text x="150.77" y="274.10" font-size="10.5" text-anchor="start" textLength="49.92" lengthAdjust="spacingAndGlyphs" fill="#000">5foldedSS</text><line x1="216.00" y1="286.05" x2="219.50" y2="286.05" stroke="#444" stroke-width="0.9"/><circle cx="209.70" cy="286.05" r="4.8" fill="url(#s5)" stroke="#2a0d75" stroke-width="0.45"/><text x="160.82" y="290.10" font-size="10.5" text-anchor="start" textLength="39.36" lengthAdjust="spacingAndGlyphs" fill="#000">SubSurf</text><line x1="216.00" y1="302.42" x2="219.50" y2="302.42" stroke="#444" stroke-width="0.9"/><circle cx="209.70" cy="302.42" r="4.8" fill="url(#s6)" stroke="#2c0a3a" stroke-width="0.45"/><text x="178.53" y="306.10" font-size="10.5" text-anchor="start" textLength="21.65" lengthAdjust="spacingAndGlyphs" fill="#000">Bulk</text><line x1="216.00" y1="318.79" x2="219.50" y2="318.79" stroke="#444" stroke-width="0.9"/><circle cx="209.70" cy="318.79" r="4.8" fill="url(#s7)" stroke="#0d2c85" stroke-width="0.45"/><text x="186.16" y="323.10" font-size="10.5" text-anchor="start" textLength="14.50" lengthAdjust="spacingAndGlyphs" fill="#000">Ico</text><line x1="229.20" y1="324.40" x2="229.20" y2="327.90" stroke="#333" stroke-width="0.9"/><text x="221.47" y="339.90" font-size="10.5" text-anchor="start" textLength="15.45" lengthAdjust="spacingAndGlyphs" fill="#000">0.0</text><line x1="267.68" y1="324.40" x2="267.68" y2="327.90" stroke="#333" stroke-width="0.9"/><text x="259.96" y="339.90" font-size="10.5" text-anchor="start" textLength="15.22" lengthAdjust="spacingAndGlyphs" fill="#000">0.2</text><line x1="306.16" y1="324.40" x2="306.16" y2="327.90" stroke="#333" stroke-width="0.9"/><text x="298.43" y="339.90" font-size="10.5" text-anchor="start" textLength="15.44" lengthAdjust="spacingAndGlyphs" fill="#000">0.4</text><line x1="344.64" y1="324.40" x2="344.64" y2="327.90" stroke="#333" stroke-width="0.9"/><text x="336.91" y="339.90" font-size="10.5" text-anchor="start" textLength="15.54" lengthAdjust="spacingAndGlyphs" fill="#000">0.6</text><line x1="383.12" y1="324.40" x2="383.12" y2="327.90" stroke="#333" stroke-width="0.9"/><text x="375.39" y="339.90" font-size="10.5" text-anchor="start" textLength="15.48" lengthAdjust="spacingAndGlyphs" fill="#000">0.8</text><line x1="421.60" y1="324.40" x2="421.60" y2="327.90" stroke="#333" stroke-width="0.9"/><text x="413.90" y="339.90" font-size="10.5" text-anchor="start" textLength="15.42" lengthAdjust="spacingAndGlyphs" fill="#000">1.0</text><text x="291.32" y="354.10" font-size="10.5" text-anchor="start" textLength="67.74" lengthAdjust="spacingAndGlyphs" fill="#000">MD Time [<tspan font-style="italic">μ</tspan>s]</text><rect x="219.50" y="198.80" width="211.50" height="125.60" fill="none" stroke="#333" stroke-width="1"/><g transform="translate(0,203.80) scale(1,16.370)" shape-rendering="crispEdges"><path fill="#2a2a2a" d="M543.0 0h1v1h-1z"/><path fill="#303030" d="M558.0 0h1v1h-1z"/><path fill="#333333" d="M510.0 0h1v1h-1zM621.0 0h3v1h-3z"/><path fill="#393939" d="M489.0 0h2v1h-2zM540.0 0h1v1h-1zM598.0 0h2v1h-2z"/><path fill="#3c3c3c" d="M538.0 0h2v1h-2zM549.0 0h3v1h-3z"/><path fill="#424242" d="M499.0 0h1v1h-1zM547.0 0h1v1h-1zM657.0 0h2v1h-2z"/><path fill="#454545" d="M514.0 0h1v1h-1zM535.0 0h1v1h-1zM565.0 0h1v1h-1zM594.0 0h1v1h-1zM597.0 0h1v1h-1zM624.0 0h2v1h-2zM634.0 0h2v1h-2zM654.0 0h2v1h-2zM667.0 0h1v1h-1z"/><path fill="#484848" d="M485.0 0h1v1h-1zM520.0 0h2v1h-2zM522.0 0h3v1h-3zM527.0 0h3v1h-3zM562.0 0h3v1h-3zM585.0 0h3v1h-3zM628.0 0h1v1h-1zM663.0 0h1v1h-1zM664.0 0h2v1h-2z"/><path fill="#4b4b4b" d="M486.0 0h1v1h-1zM515.0 0h3v1h-3zM589.0 0h1v1h-1zM620.0 0h1v1h-1z"/><path fill="#4e4e4e" d="M525.0 0h2v1h-2zM534.0 0h1v1h-1zM544.0 0h2v1h-2zM619.0 0h1v1h-1zM627.0 0h1v1h-1zM636.0 0h2v1h-2zM641.0 0h1v1h-1zM649.0 0h3v1h-3zM652.0 0h1v1h-1zM653.0 0h1v1h-1z"/><path fill="#515151" d="M482.0 0h2v1h-2zM488.0 0h1v1h-1zM494.0 0h1v1h-1zM508.0 0h2v1h-2zM536.0 0h2v1h-2zM546.0 0h1v1h-1zM583.0 0h2v1h-2zM666.0 0h1v1h-1zM672.0 0h1v1h-1z"/><path fill="#545454" d="M495.0 0h2v1h-2zM500.0 0h1v1h-1zM501.0 0h1v1h-1zM502.0 0h1v1h-1zM530.0 0h1v1h-1zM531.0 0h2v1h-2zM559.0 0h3v1h-3zM582.0 0h1v1h-1zM593.0 0h1v1h-1zM600.0 0h1v1h-1zM640.0 0h1v1h-1z"/><path fill="#575757" d="M505.0 0h2v1h-2zM518.0 0h2v1h-2zM573.0 0h3v1h-3zM629.0 0h1v1h-1zM630.0 0h1v1h-1zM638.0 0h2v1h-2zM662.0 0h1v1h-1zM670.0 0h2v1h-2z"/><path fill="#5a5a5a" d="M503.0 0h1v1h-1zM533.0 0h1v1h-1zM590.0 0h2v1h-2zM603.0 0h3v1h-3zM611.0 0h1v1h-1zM631.0 0h3v1h-3zM645.0 0h3v1h-3zM648.0 0h1v1h-1zM659.0 0h1v1h-1zM674.0 0h1.6v1h-1.6z"/><path fill="#5d5d5d" d="M484.0 0h1v1h-1zM491.0 0h3v1h-3zM576.0 0h3v1h-3zM595.0 0h2v1h-2zM610.0 0h1v1h-1zM612.0 0h2v1h-2zM614.0 0h1v1h-1zM660.0 0h2v1h-2z"/><path fill="#606060" d="M487.0 0h1v1h-1zM504.0 0h1v1h-1zM507.0 0h1v1h-1zM566.0 0h1v1h-1zM570.0 0h3v1h-3zM592.0 0h1v1h-1zM601.0 0h2v1h-2zM668.0 0h2v1h-2zM673.0 0h1v1h-1z"/><path fill="#636363" d="M552.0 0h3v1h-3zM606.0 0h2v1h-2zM616.0 0h3v1h-3zM656.0 0h1v1h-1z"/><path fill="#666666" d="M556.0 0h2v1h-2zM588.0 0h1v1h-1z"/><path fill="#696969" d="M511.0 0h3v1h-3zM548.0 0h1v1h-1zM555.0 0h1v1h-1zM642.0 0h3v1h-3z"/><path fill="#6f6f6f" d="M541.0 0h2v1h-2zM615.0 0h1v1h-1z"/><path fill="#727272" d="M497.0 0h2v1h-2z"/><path fill="#757575" d="M626.0 0h1v1h-1z"/><path fill="#787878" d="M579.0 0h3v1h-3zM608.0 0h2v1h-2z"/><path fill="#818181" d="M567.0 0h3v1h-3z"/></g><g transform="translate(0,220.17) scale(1,16.370)" shape-rendering="crispEdges"><path fill="#000000" d="M482.0 0h2v1h-2zM484.0 0h1v1h-1zM485.0 0h1v1h-1zM486.0 0h1v1h-1zM487.0 0h1v1h-1zM488.0 0h1v1h-1zM489.0 0h2v1h-2zM491.0 0h3v1h-3zM494.0 0h1v1h-1zM495.0 0h2v1h-2zM497.0 0h2v1h-2zM499.0 0h1v1h-1zM500.0 0h1v1h-1zM501.0 0h1v1h-1zM502.0 0h1v1h-1zM503.0 0h1v1h-1zM504.0 0h1v1h-1zM505.0 0h2v1h-2zM507.0 0h1v1h-1zM508.0 0h2v1h-2zM510.0 0h1v1h-1zM511.0 0h3v1h-3zM514.0 0h1v1h-1zM515.0 0h3v1h-3zM518.0 0h2v1h-2zM520.0 0h2v1h-2zM522.0 0h3v1h-3zM525.0 0h2v1h-2zM527.0 0h3v1h-3zM530.0 0h1v1h-1zM531.0 0h2v1h-2zM533.0 0h1v1h-1zM534.0 0h1v1h-1zM535.0 0h1v1h-1zM536.0 0h2v1h-2zM538.0 0h2v1h-2zM540.0 0h1v1h-1zM541.0 0h2v1h-2zM543.0 0h1v1h-1zM544.0 0h2v1h-2zM546.0 0h1v1h-1zM547.0 0h1v1h-1zM548.0 0h1v1h-1zM549.0 0h3v1h-3zM552.0 0h3v1h-3zM555.0 0h1v1h-1zM556.0 0h2v1h-2zM558.0 0h1v1h-1zM559.0 0h3v1h-3zM562.0 0h3v1h-3zM565.0 0h1v1h-1zM566.0 0h1v1h-1zM567.0 0h3v1h-3zM570.0 0h3v1h-3zM573.0 0h3v1h-3zM576.0 0h3v1h-3zM579.0 0h3v1h-3zM582.0 0h1v1h-1zM583.0 0h2v1h-2zM585.0 0h3v1h-3zM588.0 0h1v1h-1zM589.0 0h1v1h-1zM590.0 0h2v1h-2zM592.0 0h1v1h-1zM593.0 0h1v1h-1zM594.0 0h1v1h-1zM595.0 0h2v1h-2zM597.0 0h1v1h-1zM598.0 0h2v1h-2zM600.0 0h1v1h-1zM601.0 0h2v1h-2zM603.0 0h3v1h-3zM606.0 0h2v1h-2zM608.0 0h2v1h-2zM610.0 0h1v1h-1zM611.0 0h1v1h-1zM612.0 0h2v1h-2zM614.0 0h1v1h-1zM615.0 0h1v1h-1zM616.0 0h3v1h-3zM619.0 0h1v1h-1zM620.0 0h1v1h-1zM621.0 0h3v1h-3zM624.0 0h2v1h-2zM626.0 0h1v1h-1zM627.0 0h1v1h-1zM628.0 0h1v1h-1zM629.0 0h1v1h-1zM630.0 0h1v1h-1zM631.0 0h3v1h-3zM634.0 0h2v1h-2zM636.0 0h2v1h-2zM638.0 0h2v1h-2zM640.0 0h1v1h-1zM641.0 0h1v1h-1zM642.0 0h3v1h-3zM645.0 0h3v1h-3zM648.0 0h1v1h-1zM649.0 0h3v1h-3zM652.0 0h1v1h-1zM653.0 0h1v1h-1zM654.0 0h2v1h-2zM656.0 0h1v1h-1zM657.0 0h2v1h-2zM659.0 0h1v1h-1zM660.0 0h2v1h-2zM662.0 0h1v1h-1zM663.0 0h1v1h-1zM664.0 0h2v1h-2zM666.0 0h1v1h-1zM667.0 0h1v1h-1zM668.0 0h2v1h-2zM670.0 0h2v1h-2zM672.0 0h1v1h-1zM673.0 0h1v1h-1zM674.0 0h1.6v1h-1.6z"/></g><g transform="translate(0,236.54) scale(1,16.370)" shape-rendering="crispEdges"><path fill="#030303" d="M641.0 0h1v1h-1z"/><path fill="#090909" d="M600.0 0h1v1h-1z"/><path fill="#0c0c0c" d="M503.0 0h1v1h-1z"/><path fill="#121212" d="M659.0 0h1v1h-1z"/><path fill="#151515" d="M514.0 0h1v1h-1zM520.0 0h2v1h-2zM620.0 0h1v1h-1z"/><path fill="#181818" d="M570.0 0h3v1h-3zM582.0 0h1v1h-1zM603.0 0h3v1h-3zM619.0 0h1v1h-1zM638.0 0h2v1h-2zM652.0 0h1v1h-1zM667.0 0h1v1h-1z"/><path fill="#1b1b1b" d="M487.0 0h1v1h-1zM530.0 0h1v1h-1zM540.0 0h1v1h-1zM548.0 0h1v1h-1zM559.0 0h3v1h-3zM567.0 0h3v1h-3zM606.0 0h2v1h-2zM660.0 0h2v1h-2z"/><path fill="#1e1e1e" d="M489.0 0h2v1h-2zM494.0 0h1v1h-1zM504.0 0h1v1h-1zM547.0 0h1v1h-1zM593.0 0h1v1h-1zM616.0 0h3v1h-3zM624.0 0h2v1h-2zM656.0 0h1v1h-1zM657.0 0h2v1h-2zM673.0 0h1v1h-1z"/><path fill="#212121" d="M482.0 0h2v1h-2zM488.0 0h1v1h-1zM507.0 0h1v1h-1zM531.0 0h2v1h-2zM533.0 0h1v1h-1zM634.0 0h2v1h-2zM640.0 0h1v1h-1zM649.0 0h3v1h-3z"/><path fill="#242424" d="M510.0 0h1v1h-1zM515.0 0h3v1h-3zM525.0 0h2v1h-2zM535.0 0h1v1h-1zM552.0 0h3v1h-3zM583.0 0h2v1h-2zM601.0 0h2v1h-2zM610.0 0h1v1h-1zM631.0 0h3v1h-3zM672.0 0h1v1h-1zM674.0 0h1.6v1h-1.6z"/><path fill="#272727" d="M502.0 0h1v1h-1zM549.0 0h3v1h-3zM588.0 0h1v1h-1zM611.0 0h1v1h-1zM621.0 0h3v1h-3zM626.0 0h1v1h-1z"/><path fill="#2a2a2a" d="M495.0 0h2v1h-2zM501.0 0h1v1h-1zM527.0 0h3v1h-3zM541.0 0h2v1h-2zM544.0 0h2v1h-2zM546.0 0h1v1h-1zM562.0 0h3v1h-3zM573.0 0h3v1h-3zM614.0 0h1v1h-1zM666.0 0h1v1h-1z"/><path fill="#2d2d2d" d="M486.0 0h1v1h-1zM497.0 0h2v1h-2zM499.0 0h1v1h-1zM518.0 0h2v1h-2zM522.0 0h3v1h-3zM536.0 0h2v1h-2zM538.0 0h2v1h-2zM558.0 0h1v1h-1zM565.0 0h1v1h-1zM592.0 0h1v1h-1zM594.0 0h1v1h-1zM612.0 0h2v1h-2zM630.0 0h1v1h-1zM654.0 0h2v1h-2zM664.0 0h2v1h-2z"/><path fill="#303030" d="M484.0 0h1v1h-1zM534.0 0h1v1h-1zM566.0 0h1v1h-1zM585.0 0h3v1h-3zM589.0 0h1v1h-1zM597.0 0h1v1h-1zM645.0 0h3v1h-3zM663.0 0h1v1h-1z"/><path fill="#333333" d="M485.0 0h1v1h-1zM511.0 0h3v1h-3zM555.0 0h1v1h-1zM595.0 0h2v1h-2zM598.0 0h2v1h-2zM636.0 0h2v1h-2zM648.0 0h1v1h-1zM662.0 0h1v1h-1zM668.0 0h2v1h-2z"/><path fill="#363636" d="M491.0 0h3v1h-3zM608.0 0h2v1h-2zM628.0 0h1v1h-1z"/><path fill="#393939" d="M615.0 0h1v1h-1zM629.0 0h1v1h-1z"/><path fill="#3c3c3c" d="M508.0 0h2v1h-2zM556.0 0h2v1h-2zM653.0 0h1v1h-1z"/><path fill="#3f3f3f" d="M500.0 0h1v1h-1zM590.0 0h2v1h-2zM670.0 0h2v1h-2z"/><path fill="#424242" d="M543.0 0h1v1h-1zM627.0 0h1v1h-1z"/><path fill="#454545" d="M576.0 0h3v1h-3z"/><path fill="#484848" d="M505.0 0h2v1h-2zM642.0 0h3v1h-3z"/><path fill="#515151" d="M579.0 0h3v1h-3z"/></g><g transform="translate(0,252.91) scale(1,16.370)" shape-rendering="crispEdges"><path fill="#000000" d="M600.0 0h1v1h-1z"/><path fill="#060606" d="M641.0 0h1v1h-1z"/><path fill="#090909" d="M503.0 0h1v1h-1zM520.0 0h2v1h-2z"/><path fill="#0c0c0c" d="M559.0 0h3v1h-3zM619.0 0h1v1h-1zM638.0 0h2v1h-2z"/><path fill="#0f0f0f" d="M552.0 0h3v1h-3zM582.0 0h1v1h-1zM656.0 0h1v1h-1z"/><path fill="#121212" d="M534.0 0h1v1h-1zM570.0 0h3v1h-3zM606.0 0h2v1h-2zM652.0 0h1v1h-1zM667.0 0h1v1h-1z"/><path fill="#151515" d="M489.0 0h2v1h-2zM504.0 0h1v1h-1zM514.0 0h1v1h-1zM530.0 0h1v1h-1zM531.0 0h2v1h-2zM562.0 0h3v1h-3zM603.0 0h3v1h-3zM649.0 0h3v1h-3zM659.0 0h1v1h-1zM660.0 0h2v1h-2z"/><path fill="#181818" d="M499.0 0h1v1h-1zM522.0 0h3v1h-3zM527.0 0h3v1h-3zM540.0 0h1v1h-1zM541.0 0h2v1h-2zM548.0 0h1v1h-1zM549.0 0h3v1h-3zM624.0 0h2v1h-2zM673.0 0h1v1h-1zM674.0 0h1.6v1h-1.6z"/><path fill="#1b1b1b" d="M525.0 0h2v1h-2zM594.0 0h1v1h-1zM616.0 0h3v1h-3zM620.0 0h1v1h-1zM626.0 0h1v1h-1zM640.0 0h1v1h-1z"/><path fill="#1e1e1e" d="M487.0 0h1v1h-1zM535.0 0h1v1h-1zM547.0 0h1v1h-1zM566.0 0h1v1h-1zM583.0 0h2v1h-2zM611.0 0h1v1h-1zM621.0 0h3v1h-3zM636.0 0h2v1h-2zM657.0 0h2v1h-2zM662.0 0h1v1h-1zM664.0 0h2v1h-2z"/><path fill="#212121" d="M486.0 0h1v1h-1zM497.0 0h2v1h-2zM507.0 0h1v1h-1zM515.0 0h3v1h-3zM544.0 0h2v1h-2zM589.0 0h1v1h-1zM601.0 0h2v1h-2zM610.0 0h1v1h-1zM631.0 0h3v1h-3z"/><path fill="#242424" d="M494.0 0h1v1h-1zM495.0 0h2v1h-2zM546.0 0h1v1h-1zM567.0 0h3v1h-3zM588.0 0h1v1h-1zM608.0 0h2v1h-2zM653.0 0h1v1h-1zM654.0 0h2v1h-2zM668.0 0h2v1h-2zM672.0 0h1v1h-1z"/><path fill="#272727" d="M488.0 0h1v1h-1zM501.0 0h1v1h-1zM502.0 0h1v1h-1zM533.0 0h1v1h-1zM573.0 0h3v1h-3zM614.0 0h1v1h-1zM663.0 0h1v1h-1zM666.0 0h1v1h-1z"/><path fill="#2a2a2a" d="M484.0 0h1v1h-1zM485.0 0h1v1h-1zM555.0 0h1v1h-1zM565.0 0h1v1h-1zM593.0 0h1v1h-1zM628.0 0h1v1h-1z"/><path fill="#2d2d2d" d="M482.0 0h2v1h-2zM500.0 0h1v1h-1zM510.0 0h1v1h-1zM511.0 0h3v1h-3zM536.0 0h2v1h-2zM585.0 0h3v1h-3zM595.0 0h2v1h-2zM630.0 0h1v1h-1zM634.0 0h2v1h-2z"/><path fill="#303030" d="M508.0 0h2v1h-2zM518.0 0h2v1h-2zM538.0 0h2v1h-2zM556.0 0h2v1h-2zM590.0 0h2v1h-2zM597.0 0h1v1h-1zM612.0 0h2v1h-2zM648.0 0h1v1h-1zM670.0 0h2v1h-2z"/><path fill="#333333" d="M491.0 0h3v1h-3zM558.0 0h1v1h-1zM598.0 0h2v1h-2zM642.0 0h3v1h-3z"/><path fill="#363636" d="M592.0 0h1v1h-1zM615.0 0h1v1h-1zM627.0 0h1v1h-1zM629.0 0h1v1h-1zM645.0 0h3v1h-3z"/><path fill="#393939" d="M505.0 0h2v1h-2z"/><path fill="#3c3c3c" d="M576.0 0h3v1h-3z"/><path fill="#3f3f3f" d="M543.0 0h1v1h-1z"/><path fill="#484848" d="M579.0 0h3v1h-3z"/></g><g transform="translate(0,269.28) scale(1,16.370)" shape-rendering="crispEdges"><path fill="#0f0f0f" d="M503.0 0h1v1h-1zM652.0 0h1v1h-1zM659.0 0h1v1h-1z"/><path fill="#121212" d="M559.0 0h3v1h-3zM603.0 0h3v1h-3zM620.0 0h1v1h-1zM656.0 0h1v1h-1z"/><path fill="#151515" d="M504.0 0h1v1h-1zM548.0 0h1v1h-1zM600.0 0h1v1h-1zM606.0 0h2v1h-2zM619.0 0h1v1h-1zM641.0 0h1v1h-1zM673.0 0h1v1h-1z"/><path fill="#181818" d="M514.0 0h1v1h-1zM535.0 0h1v1h-1zM570.0 0h3v1h-3zM582.0 0h1v1h-1zM638.0 0h2v1h-2zM660.0 0h2v1h-2zM667.0 0h1v1h-1z"/><path fill="#1b1b1b" d="M488.0 0h1v1h-1zM489.0 0h2v1h-2zM530.0 0h1v1h-1zM547.0 0h1v1h-1zM566.0 0h1v1h-1zM589.0 0h1v1h-1zM594.0 0h1v1h-1zM601.0 0h2v1h-2zM608.0 0h2v1h-2z"/><path fill="#1e1e1e" d="M482.0 0h2v1h-2zM486.0 0h1v1h-1zM487.0 0h1v1h-1zM520.0 0h2v1h-2zM531.0 0h2v1h-2zM540.0 0h1v1h-1zM541.0 0h2v1h-2zM555.0 0h1v1h-1zM616.0 0h3v1h-3zM624.0 0h2v1h-2zM668.0 0h2v1h-2z"/><path fill="#212121" d="M497.0 0h2v1h-2zM583.0 0h2v1h-2zM621.0 0h3v1h-3zM631.0 0h3v1h-3zM657.0 0h2v1h-2zM674.0 0h1.6v1h-1.6z"/><path fill="#242424" d="M494.0 0h1v1h-1zM507.0 0h1v1h-1zM511.0 0h3v1h-3zM525.0 0h2v1h-2zM544.0 0h2v1h-2zM549.0 0h3v1h-3zM567.0 0h3v1h-3zM614.0 0h1v1h-1zM640.0 0h1v1h-1zM654.0 0h2v1h-2zM663.0 0h1v1h-1z"/><path fill="#272727" d="M484.0 0h1v1h-1zM495.0 0h2v1h-2zM501.0 0h1v1h-1zM522.0 0h3v1h-3zM546.0 0h1v1h-1zM552.0 0h3v1h-3zM664.0 0h2v1h-2zM672.0 0h1v1h-1z"/><path fill="#2a2a2a" d="M485.0 0h1v1h-1zM499.0 0h1v1h-1zM515.0 0h3v1h-3zM527.0 0h3v1h-3zM534.0 0h1v1h-1zM536.0 0h2v1h-2zM590.0 0h2v1h-2zM595.0 0h2v1h-2zM610.0 0h1v1h-1zM634.0 0h2v1h-2zM649.0 0h3v1h-3zM662.0 0h1v1h-1z"/><path fill="#2d2d2d" d="M500.0 0h1v1h-1zM562.0 0h3v1h-3zM565.0 0h1v1h-1zM588.0 0h1v1h-1zM611.0 0h1v1h-1zM628.0 0h1v1h-1zM666.0 0h1v1h-1z"/><path fill="#303030" d="M502.0 0h1v1h-1zM505.0 0h2v1h-2zM518.0 0h2v1h-2zM533.0 0h1v1h-1zM573.0 0h3v1h-3zM585.0 0h3v1h-3zM592.0 0h1v1h-1zM597.0 0h1v1h-1zM626.0 0h1v1h-1zM636.0 0h2v1h-2z"/><path fill="#333333" d="M538.0 0h2v1h-2zM556.0 0h2v1h-2zM558.0 0h1v1h-1zM576.0 0h3v1h-3zM630.0 0h1v1h-1zM642.0 0h3v1h-3z"/><path fill="#363636" d="M510.0 0h1v1h-1zM593.0 0h1v1h-1zM645.0 0h3v1h-3zM648.0 0h1v1h-1zM653.0 0h1v1h-1z"/><path fill="#393939" d="M491.0 0h3v1h-3zM670.0 0h2v1h-2z"/><path fill="#3c3c3c" d="M508.0 0h2v1h-2zM612.0 0h2v1h-2zM629.0 0h1v1h-1z"/><path fill="#3f3f3f" d="M598.0 0h2v1h-2zM615.0 0h1v1h-1zM627.0 0h1v1h-1z"/><path fill="#424242" d="M543.0 0h1v1h-1z"/><path fill="#454545" d="M579.0 0h3v1h-3z"/></g><g transform="translate(0,285.65) scale(1,16.370)" shape-rendering="crispEdges"><path fill="#a2a2a2" d="M556.0 0h2v1h-2zM649.0 0h3v1h-3z"/><path fill="#a5a5a5" d="M567.0 0h3v1h-3z"/><path fill="#a8a8a8" d="M565.0 0h1v1h-1z"/><path fill="#ababab" d="M654.0 0h2v1h-2zM656.0 0h1v1h-1zM668.0 0h2v1h-2z"/><path fill="#aeaeae" d="M579.0 0h3v1h-3zM619.0 0h1v1h-1zM653.0 0h1v1h-1zM673.0 0h1v1h-1z"/><path fill="#b1b1b1" d="M482.0 0h2v1h-2zM514.0 0h1v1h-1zM535.0 0h1v1h-1zM540.0 0h1v1h-1zM638.0 0h2v1h-2zM657.0 0h2v1h-2z"/><path fill="#b4b4b4" d="M487.0 0h1v1h-1zM558.0 0h1v1h-1zM593.0 0h1v1h-1zM594.0 0h1v1h-1zM595.0 0h2v1h-2zM615.0 0h1v1h-1zM642.0 0h3v1h-3zM660.0 0h2v1h-2zM667.0 0h1v1h-1zM674.0 0h1.6v1h-1.6z"/><path fill="#b7b7b7" d="M510.0 0h1v1h-1zM559.0 0h3v1h-3zM630.0 0h1v1h-1zM631.0 0h3v1h-3z"/><path fill="#bababa" d="M485.0 0h1v1h-1zM491.0 0h3v1h-3zM522.0 0h3v1h-3zM603.0 0h3v1h-3zM636.0 0h2v1h-2z"/><path fill="#bdbdbd" d="M497.0 0h2v1h-2zM518.0 0h2v1h-2zM527.0 0h3v1h-3zM534.0 0h1v1h-1zM538.0 0h2v1h-2zM628.0 0h1v1h-1zM645.0 0h3v1h-3zM648.0 0h1v1h-1zM663.0 0h1v1h-1zM672.0 0h1v1h-1z"/><path fill="#c0c0c0" d="M499.0 0h1v1h-1zM501.0 0h1v1h-1zM525.0 0h2v1h-2zM549.0 0h3v1h-3zM589.0 0h1v1h-1zM606.0 0h2v1h-2zM620.0 0h1v1h-1zM629.0 0h1v1h-1z"/><path fill="#c3c3c3" d="M530.0 0h1v1h-1zM555.0 0h1v1h-1zM562.0 0h3v1h-3zM576.0 0h3v1h-3zM582.0 0h1v1h-1zM583.0 0h2v1h-2zM585.0 0h3v1h-3zM598.0 0h2v1h-2zM614.0 0h1v1h-1zM627.0 0h1v1h-1zM652.0 0h1v1h-1zM666.0 0h1v1h-1z"/><path fill="#c6c6c6" d="M484.0 0h1v1h-1zM495.0 0h2v1h-2zM544.0 0h2v1h-2zM566.0 0h1v1h-1zM610.0 0h1v1h-1zM612.0 0h2v1h-2z"/><path fill="#c9c9c9" d="M489.0 0h2v1h-2zM500.0 0h1v1h-1zM502.0 0h1v1h-1zM533.0 0h1v1h-1zM573.0 0h3v1h-3z"/><path fill="#cccccc" d="M486.0 0h1v1h-1zM505.0 0h2v1h-2zM520.0 0h2v1h-2zM541.0 0h2v1h-2zM552.0 0h3v1h-3zM570.0 0h3v1h-3zM597.0 0h1v1h-1zM616.0 0h3v1h-3z"/><path fill="#cfcfcf" d="M504.0 0h1v1h-1zM531.0 0h2v1h-2zM590.0 0h2v1h-2zM621.0 0h3v1h-3zM659.0 0h1v1h-1z"/><path fill="#d2d2d2" d="M488.0 0h1v1h-1zM543.0 0h1v1h-1zM601.0 0h2v1h-2zM634.0 0h2v1h-2zM641.0 0h1v1h-1z"/><path fill="#d5d5d5" d="M507.0 0h1v1h-1zM546.0 0h1v1h-1zM626.0 0h1v1h-1zM662.0 0h1v1h-1z"/><path fill="#d8d8d8" d="M494.0 0h1v1h-1zM503.0 0h1v1h-1zM548.0 0h1v1h-1zM600.0 0h1v1h-1zM608.0 0h2v1h-2zM664.0 0h2v1h-2zM670.0 0h2v1h-2z"/><path fill="#dbdbdb" d="M536.0 0h2v1h-2zM588.0 0h1v1h-1zM640.0 0h1v1h-1z"/><path fill="#dedede" d="M515.0 0h3v1h-3zM592.0 0h1v1h-1zM611.0 0h1v1h-1zM624.0 0h2v1h-2z"/><path fill="#e4e4e4" d="M511.0 0h3v1h-3z"/><path fill="#e7e7e7" d="M547.0 0h1v1h-1z"/><path fill="#f0f0f0" d="M508.0 0h2v1h-2z"/></g><g transform="translate(0,302.02) scale(1,16.370)" shape-rendering="crispEdges"><path fill="#eaeaea" d="M582.0 0h1v1h-1zM594.0 0h1v1h-1zM642.0 0h3v1h-3z"/><path fill="#ededed" d="M499.0 0h1v1h-1zM525.0 0h2v1h-2zM530.0 0h1v1h-1zM534.0 0h1v1h-1zM543.0 0h1v1h-1zM565.0 0h1v1h-1zM590.0 0h2v1h-2zM629.0 0h1v1h-1zM674.0 0h1.6v1h-1.6z"/><path fill="#f0f0f0" d="M497.0 0h2v1h-2zM500.0 0h1v1h-1zM503.0 0h1v1h-1zM533.0 0h1v1h-1zM538.0 0h2v1h-2zM544.0 0h2v1h-2zM559.0 0h3v1h-3zM566.0 0h1v1h-1zM585.0 0h3v1h-3zM593.0 0h1v1h-1zM598.0 0h2v1h-2zM600.0 0h1v1h-1zM612.0 0h2v1h-2zM614.0 0h1v1h-1zM615.0 0h1v1h-1zM616.0 0h3v1h-3zM626.0 0h1v1h-1zM628.0 0h1v1h-1zM645.0 0h3v1h-3zM653.0 0h1v1h-1zM654.0 0h2v1h-2zM657.0 0h2v1h-2zM663.0 0h1v1h-1zM673.0 0h1v1h-1z"/><path fill="#f3f3f3" d="M486.0 0h1v1h-1zM488.0 0h1v1h-1zM491.0 0h3v1h-3zM495.0 0h2v1h-2zM505.0 0h2v1h-2zM511.0 0h3v1h-3zM515.0 0h3v1h-3zM522.0 0h3v1h-3zM535.0 0h1v1h-1zM536.0 0h2v1h-2zM540.0 0h1v1h-1zM548.0 0h1v1h-1zM549.0 0h3v1h-3zM562.0 0h3v1h-3zM576.0 0h3v1h-3zM579.0 0h3v1h-3zM583.0 0h2v1h-2zM606.0 0h2v1h-2zM631.0 0h3v1h-3zM638.0 0h2v1h-2zM648.0 0h1v1h-1zM649.0 0h3v1h-3zM659.0 0h1v1h-1zM662.0 0h1v1h-1z"/><path fill="#f6f6f6" d="M482.0 0h2v1h-2zM489.0 0h2v1h-2zM501.0 0h1v1h-1zM504.0 0h1v1h-1zM514.0 0h1v1h-1zM518.0 0h2v1h-2zM520.0 0h2v1h-2zM531.0 0h2v1h-2zM546.0 0h1v1h-1zM547.0 0h1v1h-1zM552.0 0h3v1h-3zM555.0 0h1v1h-1zM558.0 0h1v1h-1zM567.0 0h3v1h-3zM570.0 0h3v1h-3zM573.0 0h3v1h-3zM589.0 0h1v1h-1zM592.0 0h1v1h-1zM595.0 0h2v1h-2zM601.0 0h2v1h-2zM603.0 0h3v1h-3zM608.0 0h2v1h-2zM610.0 0h1v1h-1zM611.0 0h1v1h-1zM620.0 0h1v1h-1zM621.0 0h3v1h-3zM627.0 0h1v1h-1zM630.0 0h1v1h-1zM634.0 0h2v1h-2zM636.0 0h2v1h-2zM640.0 0h1v1h-1zM641.0 0h1v1h-1zM666.0 0h1v1h-1zM668.0 0h2v1h-2z"/><path fill="#f9f9f9" d="M484.0 0h1v1h-1zM485.0 0h1v1h-1zM487.0 0h1v1h-1zM527.0 0h3v1h-3zM556.0 0h2v1h-2zM597.0 0h1v1h-1zM619.0 0h1v1h-1zM652.0 0h1v1h-1zM660.0 0h2v1h-2zM670.0 0h2v1h-2zM672.0 0h1v1h-1z"/><path fill="#fcfcfc" d="M494.0 0h1v1h-1zM502.0 0h1v1h-1zM508.0 0h2v1h-2zM510.0 0h1v1h-1zM541.0 0h2v1h-2zM588.0 0h1v1h-1zM656.0 0h1v1h-1zM664.0 0h2v1h-2z"/><path fill="#ffffff" d="M507.0 0h1v1h-1zM624.0 0h2v1h-2zM667.0 0h1v1h-1z"/></g><line x1="482.00" y1="203.80" x2="675.60" y2="203.80" stroke="#777" stroke-width="1"/><line x1="482.00" y1="220.17" x2="675.60" y2="220.17" stroke="#000" stroke-width="1"/><line x1="482.00" y1="236.54" x2="675.60" y2="236.54" stroke="#000" stroke-width="1"/><line x1="482.00" y1="252.91" x2="675.60" y2="252.91" stroke="#333" stroke-width="1"/><line x1="482.00" y1="269.28" x2="675.60" y2="269.28" stroke="#333" stroke-width="1"/><line x1="482.00" y1="285.65" x2="675.60" y2="285.65" stroke="#000" stroke-width="2"/><line x1="482.00" y1="302.02" x2="675.60" y2="302.02" stroke="#111" stroke-width="1.5"/><line x1="482.00" y1="318.39" x2="675.60" y2="318.39" stroke="#eeeeee" stroke-width="1"/><line x1="470.00" y1="203.80" x2="473.50" y2="203.80" stroke="#444" stroke-width="0.9"/><circle cx="463.20" cy="203.80" r="4.8" fill="url(#s0)" stroke="#9c8820" stroke-width="0.45"/><line x1="470.00" y1="220.17" x2="473.50" y2="220.17" stroke="#444" stroke-width="0.9"/><circle cx="463.20" cy="220.17" r="4.8" fill="url(#s1)" stroke="#749b19" stroke-width="0.45"/><line x1="470.00" y1="236.54" x2="473.50" y2="236.54" stroke="#444" stroke-width="0.9"/><circle cx="463.20" cy="236.54" r="4.8" fill="url(#s2)" stroke="#10681d" stroke-width="0.45"/><line x1="470.00" y1="252.91" x2="473.50" y2="252.91" stroke="#444" stroke-width="0.9"/><circle cx="463.20" cy="252.91" r="4.8" fill="url(#s3)" stroke="#8b1056" stroke-width="0.45"/><line x1="470.00" y1="269.28" x2="473.50" y2="269.28" stroke="#444" stroke-width="0.9"/><circle cx="463.20" cy="269.28" r="4.8" fill="url(#s4)" stroke="#115b78" stroke-width="0.45"/><line x1="470.00" y1="285.65" x2="473.50" y2="285.65" stroke="#444" stroke-width="0.9"/><circle cx="463.20" cy="285.65" r="4.8" fill="url(#s5)" stroke="#2a0d75" stroke-width="0.45"/><line x1="470.00" y1="302.02" x2="473.50" y2="302.02" stroke="#444" stroke-width="0.9"/><circle cx="463.20" cy="302.02" r="4.8" fill="url(#s6)" stroke="#2c0a3a" stroke-width="0.45"/><line x1="470.00" y1="318.39" x2="473.50" y2="318.39" stroke="#444" stroke-width="0.9"/><circle cx="463.20" cy="318.39" r="4.8" fill="url(#s7)" stroke="#0d2c85" stroke-width="0.45"/><line x1="482.00" y1="324.10" x2="482.00" y2="327.60" stroke="#333" stroke-width="0.9"/><text x="474.27" y="339.90" font-size="10.5" text-anchor="start" textLength="15.45" lengthAdjust="spacingAndGlyphs" fill="#000">0.0</text><line x1="520.68" y1="324.10" x2="520.68" y2="327.60" stroke="#333" stroke-width="0.9"/><text x="512.96" y="339.90" font-size="10.5" text-anchor="start" textLength="15.22" lengthAdjust="spacingAndGlyphs" fill="#000">0.2</text><line x1="559.36" y1="324.10" x2="559.36" y2="327.60" stroke="#333" stroke-width="0.9"/><text x="551.63" y="339.90" font-size="10.5" text-anchor="start" textLength="15.44" lengthAdjust="spacingAndGlyphs" fill="#000">0.4</text><line x1="598.04" y1="324.10" x2="598.04" y2="327.60" stroke="#333" stroke-width="0.9"/><text x="590.31" y="339.90" font-size="10.5" text-anchor="start" textLength="15.54" lengthAdjust="spacingAndGlyphs" fill="#000">0.6</text><line x1="636.72" y1="324.10" x2="636.72" y2="327.60" stroke="#333" stroke-width="0.9"/><text x="628.99" y="339.90" font-size="10.5" text-anchor="start" textLength="15.48" lengthAdjust="spacingAndGlyphs" fill="#000">0.8</text><line x1="675.40" y1="324.10" x2="675.40" y2="327.60" stroke="#333" stroke-width="0.9"/><text x="667.70" y="339.90" font-size="10.5" text-anchor="start" textLength="15.42" lengthAdjust="spacingAndGlyphs" fill="#000">1.0</text><text x="545.37" y="354.10" font-size="10.5" text-anchor="start" textLength="67.74" lengthAdjust="spacingAndGlyphs" fill="#000">MD Time [<tspan font-style="italic">μ</tspan>s]</text><rect x="473.50" y="198.40" width="211.60" height="125.70" fill="none" stroke="#333" stroke-width="1"/><line x1="229.40" y1="19.80" x2="253.20" y2="19.80" stroke="#f2dc1e" stroke-width="6.6" stroke-linecap="round"/><circle cx="263.70" cy="19.80" r="3.7" fill="#f2dc1e"/><circle cx="282.90" cy="19.80" r="3.7" fill="#f2dc1e"/><line x1="253.80" y1="36.57" x2="330.00" y2="36.57" stroke="#c6f51a" stroke-width="6.6" stroke-linecap="round"/><line x1="254.80" y1="53.34" x2="261.20" y2="53.34" stroke="#16b12e" stroke-width="6.6" stroke-linecap="round"/><line x1="269.30" y1="53.34" x2="317.20" y2="53.34" stroke="#16b12e" stroke-width="6.6" stroke-linecap="round"/><circle cx="330.30" cy="53.34" r="3.7" fill="#16b12e"/><circle cx="390.10" cy="70.11" r="3.7" fill="#e2108a"/><circle cx="331.00" cy="86.88" r="3.7" fill="#1a93c4"/><circle cx="335.20" cy="86.88" r="3.7" fill="#1a93c4"/><circle cx="337.40" cy="86.88" r="3.7" fill="#1a93c4"/><circle cx="339.60" cy="86.88" r="3.7" fill="#1a93c4"/><circle cx="342.40" cy="86.88" r="3.7" fill="#1a93c4"/><circle cx="356.00" cy="86.88" r="3.7" fill="#1a93c4"/><circle cx="360.80" cy="86.88" r="3.7" fill="#1a93c4"/><circle cx="364.00" cy="86.88" r="3.7" fill="#1a93c4"/><circle cx="393.20" cy="86.88" r="3.7" fill="#1a93c4"/><circle cx="418.10" cy="86.88" r="3.7" fill="#1a93c4"/><line x1="330.70" y1="103.65" x2="421.30" y2="103.65" stroke="#3a0aa6" stroke-width="6.6" stroke-linecap="round"/><path d="M229.4,19.80H253.6V36.57H254.00V53.34H254.60V36.57H255.20V53.34H255.80V36.57H256.40V53.34H257.00V36.57H257.60V53.34H258.20V36.57H258.80V53.34H261.00V36.57H262.00V53.34H263.40V36.57H263.70V19.80H263.71V36.57H268.70V53.34H271.00V36.57H271.90V53.34H273.70V36.57H275.90V53.34H277.30V36.57H280.00V53.34H280.60V36.57H281.20V53.34H281.80V36.57H282.40V53.34H282.60V36.57H282.90V19.80H282.91V36.57H283.00V53.34H284.80V36.57H285.40V53.34H286.00V36.57H286.60V53.34H287.20V36.57H287.80V53.34H288.40V36.57H289.00V53.34H291.40V36.57H292.00V53.34H292.60V36.57H293.20V53.34H293.80V36.57H294.40V53.34H295.00V36.57H295.60V53.34H296.20V36.57H296.80V53.34H297.40V36.57H298.00V53.34H298.60V36.57H299.20V53.34H299.80V36.57H300.40V53.34H301.00V36.57H301.60V53.34H302.20V36.57H302.80V53.34H304.60V36.57H305.20V53.34H305.80V36.57H306.40V53.34H307.00V36.57H307.60V53.34H308.20V36.57H308.80V53.34H309.40V36.57H310.00V53.34H310.60V36.57H311.20V53.34H311.80V36.57H312.40V53.34H313.00V36.57H313.60V53.34H314.20V36.57H316.60V53.34H317.20V36.57H330.30V53.34H330.40V103.65H335.00V86.88H335.30V103.65H337.00V86.88H337.30V103.65H339.50V86.88H339.80V103.65H341.50V86.88H341.80V103.65H343.50V86.88H343.80V103.65H356.00V86.88H356.30V103.65H361.00V86.88H361.30V103.65H363.50V86.88H363.80V103.65H393.00V86.88H393.30V103.65H417.50V86.88H417.80V103.65H419.00V86.88H419.30V103.65H389.99V103.65H390.00V70.11H390.20V103.65H421.30V103.65" fill="none" stroke="#000" stroke-opacity="0.5" stroke-width="1.1"/><line x1="216.00" y1="19.80" x2="219.50" y2="19.80" stroke="#444" stroke-width="0.9"/><circle cx="209.70" cy="19.80" r="4.8" fill="url(#s0)" stroke="#9c8820" stroke-width="0.45"/><text x="157.52" y="24.10" font-size="10.5" text-anchor="start" textLength="43.07" lengthAdjust="spacingAndGlyphs" fill="#000">Vertexes</text><line x1="216.00" y1="36.57" x2="219.50" y2="36.57" stroke="#444" stroke-width="0.9"/><circle cx="209.70" cy="36.57" r="4.8" fill="url(#s1)" stroke="#749b19" stroke-width="0.45"/><text x="170.42" y="41.10" font-size="10.5" text-anchor="start" textLength="30.16" lengthAdjust="spacingAndGlyphs" fill="#000">Edges</text><line x1="216.00" y1="53.34" x2="219.50" y2="53.34" stroke="#444" stroke-width="0.9"/><circle cx="209.70" cy="53.34" r="4.8" fill="url(#s2)" stroke="#10681d" stroke-width="0.45"/><text x="173.01" y="57.10" font-size="10.5" text-anchor="start" textLength="27.55" lengthAdjust="spacingAndGlyphs" fill="#000">Faces</text><line x1="216.00" y1="70.11" x2="219.50" y2="70.11" stroke="#444" stroke-width="0.9"/><circle cx="209.70" cy="70.11" r="4.8" fill="url(#s3)" stroke="#8b1056" stroke-width="0.45"/><text x="157.60" y="74.10" font-size="10.5" text-anchor="start" textLength="43.08" lengthAdjust="spacingAndGlyphs" fill="#000">Concave</text><line x1="216.00" y1="86.88" x2="219.50" y2="86.88" stroke="#444" stroke-width="0.9"/><circle cx="209.70" cy="86.88" r="4.8" fill="url(#s4)" stroke="#115b78" stroke-width="0.45"/><text x="150.77" y="91.10" font-size="10.5" text-anchor="start" textLength="49.92" lengthAdjust="spacingAndGlyphs" fill="#000">5foldedSS</text><line x1="216.00" y1="103.65" x2="219.50" y2="103.65" stroke="#444" stroke-width="0.9"/><circle cx="209.70" cy="103.65" r="4.8" fill="url(#s5)" stroke="#2a0d75" stroke-width="0.45"/><text x="160.82" y="108.10" font-size="10.5" text-anchor="start" textLength="39.36" lengthAdjust="spacingAndGlyphs" fill="#000">SubSurf</text><line x1="216.00" y1="120.42" x2="219.50" y2="120.42" stroke="#444" stroke-width="0.9"/><circle cx="209.70" cy="120.42" r="4.8" fill="url(#s6)" stroke="#2c0a3a" stroke-width="0.45"/><text x="178.53" y="124.10" font-size="10.5" text-anchor="start" textLength="21.65" lengthAdjust="spacingAndGlyphs" fill="#000">Bulk</text><line x1="216.00" y1="137.19" x2="219.50" y2="137.19" stroke="#444" stroke-width="0.9"/><circle cx="209.70" cy="137.19" r="4.8" fill="url(#s7)" stroke="#0d2c85" stroke-width="0.45"/><text x="186.16" y="141.10" font-size="10.5" text-anchor="start" textLength="14.50" lengthAdjust="spacingAndGlyphs" fill="#000">Ico</text><line x1="229.20" y1="141.30" x2="229.20" y2="144.80" stroke="#333" stroke-width="0.9"/><text x="221.47" y="156.90" font-size="10.5" text-anchor="start" textLength="15.45" lengthAdjust="spacingAndGlyphs" fill="#000">0.0</text><line x1="267.64" y1="141.30" x2="267.64" y2="144.80" stroke="#333" stroke-width="0.9"/><text x="259.92" y="156.90" font-size="10.5" text-anchor="start" textLength="15.22" lengthAdjust="spacingAndGlyphs" fill="#000">0.2</text><line x1="306.08" y1="141.30" x2="306.08" y2="144.80" stroke="#333" stroke-width="0.9"/><text x="298.35" y="156.90" font-size="10.5" text-anchor="start" textLength="15.44" lengthAdjust="spacingAndGlyphs" fill="#000">0.4</text><line x1="344.52" y1="141.30" x2="344.52" y2="144.80" stroke="#333" stroke-width="0.9"/><text x="336.79" y="156.90" font-size="10.5" text-anchor="start" textLength="15.54" lengthAdjust="spacingAndGlyphs" fill="#000">0.6</text><line x1="382.96" y1="141.30" x2="382.96" y2="144.80" stroke="#333" stroke-width="0.9"/><text x="375.23" y="156.90" font-size="10.5" text-anchor="start" textLength="15.48" lengthAdjust="spacingAndGlyphs" fill="#000">0.8</text><line x1="421.40" y1="141.30" x2="421.40" y2="144.80" stroke="#333" stroke-width="0.9"/><text x="413.70" y="156.90" font-size="10.5" text-anchor="start" textLength="15.42" lengthAdjust="spacingAndGlyphs" fill="#000">1.0</text><text x="291.32" y="171.60" font-size="10.5" text-anchor="start" textLength="67.74" lengthAdjust="spacingAndGlyphs" fill="#000">MD Time [<tspan font-style="italic">μ</tspan>s]</text><rect x="219.50" y="15.50" width="211.50" height="125.80" fill="none" stroke="#333" stroke-width="1"/><text x="0.75" y="10.00" font-size="12" text-anchor="start" font-weight="bold" stroke="#000" stroke-width="0.3" textLength="6.68" lengthAdjust="spacingAndGlyphs" fill="#000">a</text><text x="140.85" y="10.00" font-size="12" text-anchor="start" font-weight="bold" stroke="#000" stroke-width="0.3" textLength="6.38" lengthAdjust="spacingAndGlyphs" fill="#000">c</text><text x="447.78" y="10.00" font-size="12" text-anchor="start" font-weight="bold" stroke="#000" stroke-width="0.3" textLength="7.76" lengthAdjust="spacingAndGlyphs" fill="#000">d</text><text x="0.15" y="192.80" font-size="12" text-anchor="start" font-weight="bold" stroke="#000" stroke-width="0.3" textLength="7.88" lengthAdjust="spacingAndGlyphs" fill="#000">b</text><text x="139.78" y="192.80" font-size="12" text-anchor="start" font-weight="bold" stroke="#000" stroke-width="0.3" textLength="7.37" lengthAdjust="spacingAndGlyphs" fill="#000">e</text><text x="451.42" y="192.60" font-size="12" text-anchor="start" font-weight="bold" stroke="#000" stroke-width="0.3" textLength="3.56" lengthAdjust="spacingAndGlyphs" fill="#000">f</text><rect x="21.0" y="157.3" width="104.3" height="6.5" fill="url(#hot)" stroke="#222" stroke-width="0.8"/><line x1="21.0" y1="163.8" x2="21.0" y2="167.3" stroke="#333" stroke-width="0.9"/><text x="13.27" y="179.00" font-size="10.5" text-anchor="start" textLength="15.45" lengthAdjust="spacingAndGlyphs" fill="#000">0.0</text><line x1="73.15" y1="163.8" x2="73.15" y2="167.3" stroke="#333" stroke-width="0.9"/><text x="65.43" y="179.00" font-size="10.5" text-anchor="start" textLength="15.26" lengthAdjust="spacingAndGlyphs" fill="#000">0.5</text><line x1="125.3" y1="163.8" x2="125.3" y2="167.3" stroke="#333" stroke-width="0.9"/><text x="117.60" y="179.00" font-size="10.5" text-anchor="start" textLength="15.42" lengthAdjust="spacingAndGlyphs" fill="#000">1.0</text><text x="65.43" y="191.80" font-size="10.5" text-anchor="start" textLength="15.38" lengthAdjust="spacingAndGlyphs" fill="#000"><tspan font-style="italic">μ</tspan> s</text>
<use href="#np"/><g opacity="0.93"><polyline points="85.7,79.7 85.1,75.0" fill="none" stroke="#c8641c" stroke-width="3.5" stroke-linecap="round" stroke-linejoin="round"/><polyline points="95.8,85.8 85.7,79.7" fill="none" stroke="#f07a22" stroke-width="4.5" stroke-linecap="round" stroke-linejoin="round"/><polyline points="82.3,90.8 95.8,86.4" fill="none" stroke="#e8461a" stroke-width="3.8" stroke-linecap="round" stroke-linejoin="round"/><polyline points="95.8,86.4 105.2,91.2" fill="none" stroke="#f26a18" stroke-width="5.5" stroke-linecap="round" stroke-linejoin="round"/><polyline points="75.0,93.5 89.5,97.6" fill="none" stroke="#d21e1e" stroke-width="5.5" stroke-linecap="round" stroke-linejoin="round"/><polyline points="70.5,82.2 74.5,92.0 73.6,97.2" fill="none" stroke="#c41616" stroke-width="6.2" stroke-linecap="round" stroke-linejoin="round"/><polyline points="58.6,84.2 64.2,82.6" fill="none" stroke="#7c1010" stroke-width="5.5" stroke-linecap="round" stroke-linejoin="round"/><polyline points="64.2,82.6 70.9,82.0" fill="none" stroke="#a01212" stroke-width="6" stroke-linecap="round" stroke-linejoin="round"/><polyline points="53.0,85.8 58.6,84.2" fill="none" stroke="#4e1010" stroke-width="4.5" stroke-linecap="round" stroke-linejoin="round"/><circle cx="50.7" cy="86.4" r="4.0" fill="#3e1414"/><circle cx="80.4" cy="70.8" r="2.8" fill="#f09434"/><circle cx="84.4" cy="69.6" r="2.8" fill="#f4cc3c"/><circle cx="86.0" cy="72.4" r="2.0" fill="#f8e08a"/></g><use href="#np" transform="translate(0,183)"/><g><polyline points="85.9,261.5 83.5,256.0" fill="none" stroke="#3a1880" stroke-width="3" stroke-linecap="round" stroke-linejoin="round"/><circle cx="82.8" cy="253.8" r="3.8" fill="#4a1aa8"/><circle cx="83.2" cy="253.3" r="1.1" fill="#1a90c0"/><polyline points="60.5,264.8 69.5,264.3 76.5,270.2 82.8,274.0 89.8,278.0" fill="none" stroke="#c2ee2a" stroke-width="5" stroke-linecap="round" stroke-linejoin="round"/><polyline points="84.5,262.8 95.4,267.7 103.8,274.2" fill="none" stroke="#c2ee2a" stroke-width="5" stroke-linecap="round" stroke-linejoin="round"/><polyline points="81.5,272.1 85.0,271.2" fill="none" stroke="#4a1aa8" stroke-width="4" stroke-linecap="round" stroke-linejoin="round"/><polyline points="85.0,271.2 88.0,270.5" fill="none" stroke="#1840c8" stroke-width="4" stroke-linecap="round" stroke-linejoin="round"/><polyline points="88.0,270.5 91.0,269.8" fill="none" stroke="#1a90c0" stroke-width="4" stroke-linecap="round" stroke-linejoin="round"/><polyline points="91.0,269.8 94.3,269.0" fill="none" stroke="#e0188a" stroke-width="4" stroke-linecap="round" stroke-linejoin="round"/><polyline points="76.0,276.0 79.0,278.0" fill="none" stroke="#1aa83a" stroke-width="4" stroke-linecap="round" stroke-linejoin="round"/><polyline points="77.5,277.5 80.0,279.0" fill="none" stroke="#1840c8" stroke-width="3.2" stroke-linecap="round" stroke-linejoin="round"/><polyline points="79.0,274.5 81.0,276.0" fill="none" stroke="#1aa83a" stroke-width="3.2" stroke-linecap="round" stroke-linejoin="round"/><polyline points="71.0,273.5 74.4,281.2" fill="none" stroke="#f0d43a" stroke-width="3.8" stroke-linecap="round" stroke-linejoin="round"/><polyline points="56.0,268.2 65.5,267.6" fill="none" stroke="#f0d43a" stroke-width="3.8" stroke-linecap="round" stroke-linejoin="round"/><circle cx="64.8" cy="267.4" r="2.4" fill="#f0d43a"/><circle cx="51.2" cy="268.9" r="4.4" fill="#f0d43a"/></g>
</svg>
</body></html>
